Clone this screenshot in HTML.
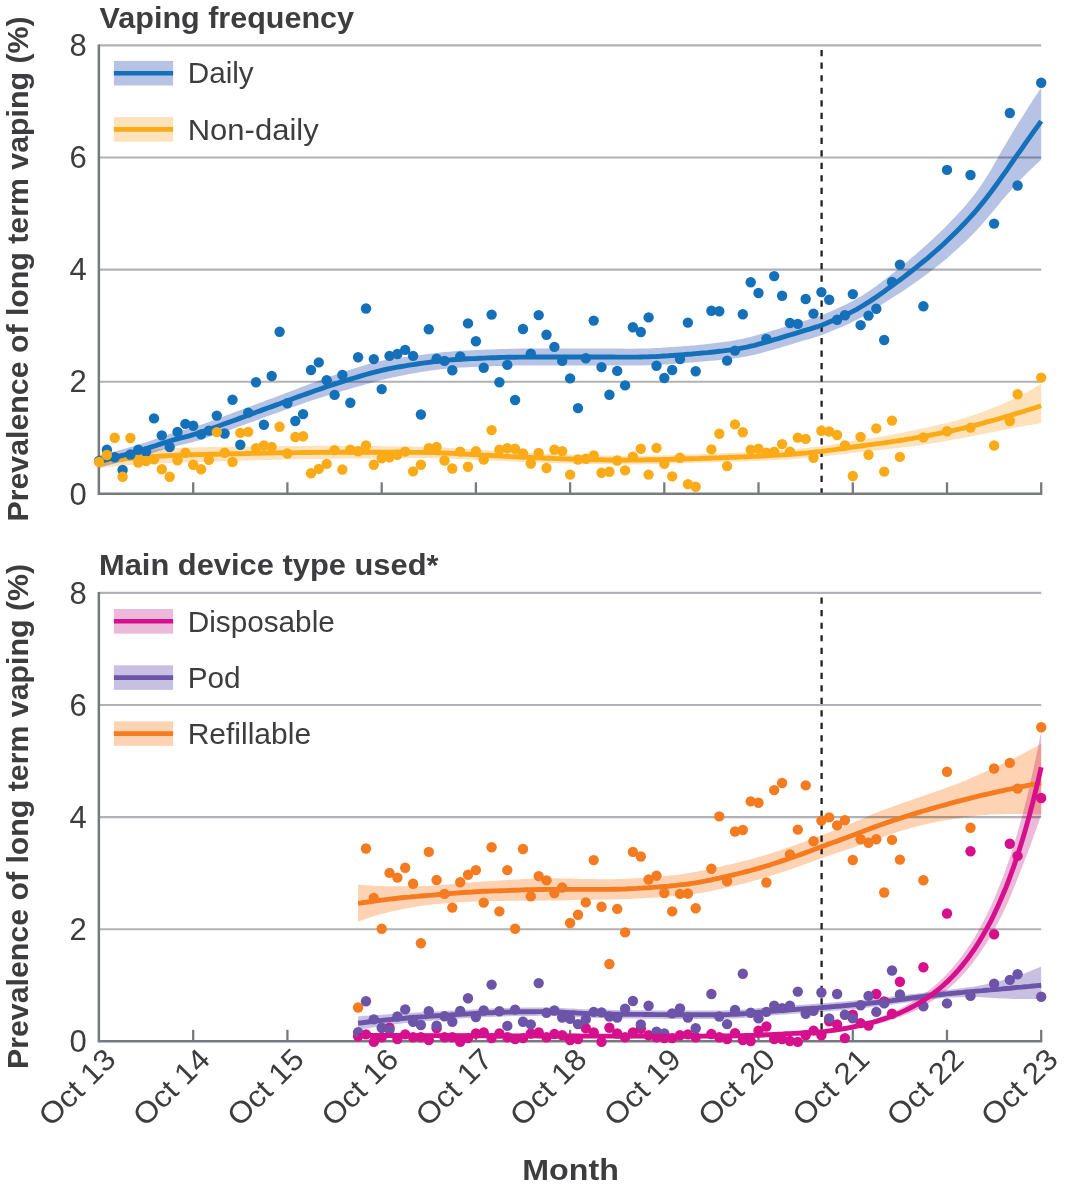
<!DOCTYPE html><html><head><meta charset="utf-8"><title>Vaping prevalence</title>
<style>html,body{margin:0;padding:0;background:#fff}svg{display:block;font-family:"Liberation Sans",sans-serif}</style></head><body>
<svg width="1065" height="1188" viewBox="0 0 1065 1188">
<rect width="1065" height="1188" fill="#fff"/>
<line x1="99.0" y1="381.7" x2="1041.2" y2="381.7" stroke="#b0b2b5" stroke-width="2.1"/>
<line x1="99.0" y1="269.6" x2="1041.2" y2="269.6" stroke="#b0b2b5" stroke-width="2.1"/>
<line x1="99.0" y1="157.5" x2="1041.2" y2="157.5" stroke="#b0b2b5" stroke-width="2.1"/>
<line x1="99.0" y1="45.4" x2="1041.2" y2="45.4" stroke="#b0b2b5" stroke-width="2.1"/>
<line x1="821.6" y1="50.1" x2="821.6" y2="493.8" stroke="#231f20" stroke-width="2.3" stroke-dasharray="6.2 6.32"/>
<path d="M98.85 44.5 V493.8 H1042.2" fill="none" stroke="#787b7e" stroke-width="2.5"/>
<line x1="193.2" y1="493.8" x2="193.2" y2="482.3" stroke="#787b7e" stroke-width="2.3"/>
<line x1="287.4" y1="493.8" x2="287.4" y2="482.3" stroke="#787b7e" stroke-width="2.3"/>
<line x1="381.7" y1="493.8" x2="381.7" y2="482.3" stroke="#787b7e" stroke-width="2.3"/>
<line x1="475.9" y1="493.8" x2="475.9" y2="482.3" stroke="#787b7e" stroke-width="2.3"/>
<line x1="570.1" y1="493.8" x2="570.1" y2="482.3" stroke="#787b7e" stroke-width="2.3"/>
<line x1="664.3" y1="493.8" x2="664.3" y2="482.3" stroke="#787b7e" stroke-width="2.3"/>
<line x1="758.5" y1="493.8" x2="758.5" y2="482.3" stroke="#787b7e" stroke-width="2.3"/>
<line x1="852.8" y1="493.8" x2="852.8" y2="482.3" stroke="#787b7e" stroke-width="2.3"/>
<line x1="947" y1="493.8" x2="947" y2="482.3" stroke="#787b7e" stroke-width="2.3"/>
<line x1="1041.2" y1="493.8" x2="1041.2" y2="482.3" stroke="#787b7e" stroke-width="2.3"/>
<text x="86.8" y="504.5" text-anchor="end" font-size="31" fill="#3d3d3f">0</text>
<text x="86.8" y="392.4" text-anchor="end" font-size="31" fill="#3d3d3f">2</text>
<text x="86.8" y="280.3" text-anchor="end" font-size="31" fill="#3d3d3f">4</text>
<text x="86.8" y="168.2" text-anchor="end" font-size="31" fill="#3d3d3f">6</text>
<text x="86.8" y="56.1" text-anchor="end" font-size="31" fill="#3d3d3f">8</text>
<g style="mix-blend-mode:multiply">
<path d="M99 456.2 L102.9 455.4 L106.9 454.6 L110.8 453.9 L114.7 453.3 L118.6 452.8 L122.6 452.4 L126.5 451.9 L130.4 451.5 L134.3 451.1 L138.3 450.8 L142.2 450.4 L146.1 450.1 L150 449.7 L154 449.4 L157.9 449.1 L161.8 448.8 L165.7 448.6 L169.7 448.3 L173.6 448.1 L177.5 448 L181.4 447.8 L185.4 447.7 L189.3 447.6 L193.2 447.4 L197.1 447.3 L201.1 447.3 L205 447.2 L208.9 447.1 L212.8 447 L216.8 446.9 L220.7 446.9 L224.6 446.8 L228.6 446.8 L232.5 446.7 L236.4 446.6 L240.3 446.6 L244.3 446.5 L248.2 446.5 L252.1 446.4 L256 446.3 L260 446.3 L263.9 446.2 L267.8 446.1 L271.7 446.1 L275.7 446 L279.6 446 L283.5 446 L287.4 445.9 L291.4 445.9 L295.3 445.9 L299.2 445.9 L303.1 445.9 L307.1 445.9 L311 445.9 L314.9 445.8 L318.8 445.8 L322.8 445.8 L326.7 445.8 L330.6 445.8 L334.6 445.8 L338.5 445.8 L342.4 445.9 L346.3 445.9 L350.3 445.9 L354.2 445.9 L358.1 445.9 L362 446 L366 446 L369.9 446 L373.8 446.1 L377.7 446.1 L381.7 446.2 L385.6 446.2 L389.5 446.3 L393.4 446.3 L397.4 446.4 L401.3 446.4 L405.2 446.5 L409.1 446.5 L413.1 446.6 L417 446.7 L420.9 446.7 L424.8 446.8 L428.8 446.9 L432.7 447 L436.6 447.2 L440.5 447.4 L444.5 447.6 L448.4 447.8 L452.3 448 L456.3 448.3 L460.2 448.5 L464.1 448.8 L468 449 L472 449.3 L475.9 449.5 L479.8 449.8 L483.7 450 L487.7 450.3 L491.6 450.5 L495.5 450.7 L499.4 451 L503.4 451.2 L507.3 451.4 L511.2 451.7 L515.1 451.9 L519.1 452.1 L523 452.4 L526.9 452.6 L530.8 452.8 L534.8 453 L538.7 453.2 L542.6 453.3 L546.5 453.5 L550.5 453.7 L554.4 453.8 L558.3 454 L562.2 454.2 L566.2 454.3 L570.1 454.5 L574 454.6 L578 454.8 L581.9 454.9 L585.8 455 L589.7 455.1 L593.7 455.2 L597.6 455.4 L601.5 455.5 L605.4 455.6 L609.4 455.6 L613.3 455.7 L617.2 455.8 L621.1 455.8 L625.1 455.9 L629 455.9 L632.9 455.8 L636.8 455.8 L640.8 455.8 L644.7 455.7 L648.6 455.6 L652.5 455.5 L656.5 455.5 L660.4 455.4 L664.3 455.3 L668.2 455.2 L672.2 455.1 L676.1 455 L680 454.9 L683.9 454.7 L687.9 454.6 L691.8 454.5 L695.7 454.3 L699.7 454.2 L703.6 454 L707.5 453.9 L711.4 453.7 L715.4 453.6 L719.3 453.4 L723.2 453.2 L727.1 453.1 L731.1 452.9 L735 452.7 L738.9 452.5 L742.8 452.4 L746.8 452.2 L750.7 452 L754.6 451.8 L758.5 451.6 L762.5 451.3 L766.4 451.1 L770.3 450.9 L774.2 450.6 L778.2 450.4 L782.1 450.1 L786 449.8 L789.9 449.4 L793.9 449.1 L797.8 448.7 L801.7 448.3 L805.7 447.9 L809.6 447.5 L813.5 447.1 L817.4 446.7 L821.4 446.2 L825.3 445.6 L829.2 445 L833.1 444.4 L837.1 443.8 L841 443.1 L844.9 442.4 L848.8 441.8 L852.8 441.1 L856.7 440.5 L860.6 439.9 L864.5 439.3 L868.5 438.6 L872.4 438 L876.3 437.4 L880.2 436.7 L884.2 436.1 L888.1 435.4 L892 434.7 L895.9 434 L899.9 433.2 L903.8 432.4 L907.7 431.6 L911.6 430.8 L915.6 429.9 L919.5 429.1 L923.4 428.2 L927.4 427.4 L931.3 426.5 L935.2 425.6 L939.1 424.7 L943.1 423.8 L947 422.9 L950.9 421.9 L954.8 420.9 L958.8 419.8 L962.7 418.6 L966.6 417.4 L970.5 416.1 L974.5 414.7 L978.4 413.4 L982.3 412 L986.2 410.5 L990.2 409 L994.1 407.5 L998 405.9 L1001.9 404.2 L1005.9 402.5 L1009.8 400.7 L1013.7 398.8 L1017.6 396.9 L1021.6 394.9 L1025.5 392.8 L1029.4 390.7 L1033.3 388.4 L1037.3 386.1 L1041.2 383.8 L1041.2 423.1 L1037.3 423.7 L1033.3 424.4 L1029.4 425.1 L1025.5 425.8 L1021.6 426.5 L1017.6 427.2 L1013.7 428 L1009.8 428.7 L1005.9 429.5 L1001.9 430.2 L998 431 L994.1 431.8 L990.2 432.6 L986.2 433.4 L982.3 434.2 L978.4 435 L974.5 435.7 L970.5 436.5 L966.6 437.2 L962.7 437.9 L958.8 438.6 L954.8 439.3 L950.9 440 L947 440.8 L943.1 441.5 L939.1 442.2 L935.2 442.9 L931.3 443.5 L927.4 444.1 L923.4 444.7 L919.5 445.3 L915.6 445.8 L911.6 446.4 L907.7 446.9 L903.8 447.3 L899.9 447.8 L895.9 448.2 L892 448.7 L888.1 449.1 L884.2 449.6 L880.2 450 L876.3 450.4 L872.4 450.8 L868.5 451.2 L864.5 451.6 L860.6 452.1 L856.7 452.5 L852.8 452.9 L848.8 453.4 L844.9 453.9 L841 454.3 L837.1 454.8 L833.1 455.3 L829.2 455.8 L825.3 456.3 L821.4 456.7 L817.4 457 L813.5 457.4 L809.6 457.7 L805.7 458 L801.7 458.3 L797.8 458.6 L793.9 458.9 L789.9 459.2 L786 459.5 L782.1 459.7 L778.2 459.9 L774.2 460.1 L770.3 460.3 L766.4 460.5 L762.5 460.6 L758.5 460.8 L754.6 461 L750.7 461.1 L746.8 461.2 L742.8 461.4 L738.9 461.5 L735 461.6 L731.1 461.7 L727.1 461.9 L723.2 462 L719.3 462.1 L715.4 462.2 L711.4 462.4 L707.5 462.5 L703.6 462.6 L699.7 462.7 L695.7 462.8 L691.8 463 L687.9 463.1 L683.9 463.2 L680 463.3 L676.1 463.4 L672.2 463.5 L668.2 463.6 L664.3 463.7 L660.4 463.8 L656.5 463.9 L652.5 464 L648.6 464.1 L644.7 464.1 L640.8 464.2 L636.8 464.3 L632.9 464.4 L629 464.4 L625.1 464.4 L621.1 464.4 L617.2 464.4 L613.3 464.4 L609.4 464.3 L605.4 464.3 L601.5 464.2 L597.6 464.1 L593.7 464.1 L589.7 464 L585.8 463.9 L581.9 463.8 L578 463.8 L574 463.7 L570.1 463.6 L566.2 463.5 L562.2 463.3 L558.3 463.2 L554.4 463.1 L550.5 463 L546.5 462.9 L542.6 462.7 L538.7 462.6 L534.8 462.4 L530.8 462.3 L526.9 462.1 L523 462 L519.1 461.8 L515.1 461.6 L511.2 461.5 L507.3 461.3 L503.4 461.1 L499.4 460.9 L495.5 460.7 L491.6 460.6 L487.7 460.4 L483.7 460.2 L479.8 460.1 L475.9 459.9 L472 459.7 L468 459.5 L464.1 459.3 L460.2 459.2 L456.3 459 L452.3 458.8 L448.4 458.6 L444.5 458.5 L440.5 458.4 L436.6 458.3 L432.7 458.2 L428.8 458.1 L424.8 458.1 L420.9 458.1 L417 458.1 L413.1 458.1 L409.1 458.2 L405.2 458.2 L401.3 458.2 L397.4 458.2 L393.4 458.2 L389.5 458.3 L385.6 458.3 L381.7 458.3 L377.7 458.3 L373.8 458.4 L369.9 458.4 L366 458.4 L362 458.5 L358.1 458.5 L354.2 458.5 L350.3 458.6 L346.3 458.6 L342.4 458.6 L338.5 458.7 L334.6 458.7 L330.6 458.8 L326.7 458.8 L322.8 458.9 L318.8 458.9 L314.9 459 L311 459.1 L307.1 459.1 L303.1 459.2 L299.2 459.3 L295.3 459.3 L291.4 459.4 L287.4 459.5 L283.5 459.6 L279.6 459.7 L275.7 459.8 L271.7 459.9 L267.8 460 L263.9 460.1 L260 460.2 L256 460.3 L252.1 460.4 L248.2 460.5 L244.3 460.6 L240.3 460.8 L236.4 460.9 L232.5 461 L228.6 461.1 L224.6 461.2 L220.7 461.3 L216.8 461.4 L212.8 461.5 L208.9 461.6 L205 461.7 L201.1 461.8 L197.1 461.9 L193.2 462 L189.3 462.1 L185.4 462.2 L181.4 462.4 L177.5 462.5 L173.6 462.7 L169.7 462.9 L165.7 463.1 L161.8 463.3 L157.9 463.5 L154 463.7 L150 463.9 L146.1 464.1 L142.2 464.4 L138.3 464.6 L134.3 464.9 L130.4 465.1 L126.5 465.4 L122.6 465.6 L118.6 466 L114.7 466.3 L110.8 466.7 L106.9 467.3 L102.9 467.9 L99 468.6 Z" fill="#fde2bb"/>
</g><g style="mix-blend-mode:multiply">
<path d="M99 455.7 L102.9 454.6 L106.9 453.5 L110.8 452.5 L114.7 451.4 L118.6 450.4 L122.6 449.3 L126.5 448.2 L130.4 447.1 L134.3 445.9 L138.3 444.7 L142.2 443.4 L146.1 442.2 L150 440.9 L154 439.5 L157.9 438.2 L161.8 436.8 L165.7 435.4 L169.7 434.1 L173.6 432.9 L177.5 431.8 L181.4 430.7 L185.4 429.6 L189.3 428.6 L193.2 427.4 L197.1 426.1 L201.1 424.8 L205 423.4 L208.9 421.9 L212.8 420.4 L216.8 419 L220.7 417.5 L224.6 416 L228.6 414.5 L232.5 413.1 L236.4 411.6 L240.3 410.2 L244.3 408.7 L248.2 407.2 L252.1 405.7 L256 404.2 L260 402.7 L263.9 401.3 L267.8 399.8 L271.7 398.4 L275.7 396.9 L279.6 395.4 L283.5 394 L287.4 392.4 L291.4 390.9 L295.3 389.4 L299.2 387.9 L303.1 386.5 L307.1 385.1 L311 383.6 L314.9 382.2 L318.8 380.7 L322.8 379.3 L326.7 377.8 L330.6 376.4 L334.6 375.1 L338.5 373.7 L342.4 372.4 L346.3 371 L350.3 369.7 L354.2 368.4 L358.1 367.2 L362 366 L366 364.8 L369.9 363.7 L373.8 362.6 L377.7 361.6 L381.7 360.7 L385.6 359.9 L389.5 359.1 L393.4 358.5 L397.4 357.9 L401.3 357.4 L405.2 356.9 L409.1 356.4 L413.1 355.9 L417 355.4 L420.9 354.9 L424.8 354.4 L428.8 353.9 L432.7 353.4 L436.6 352.9 L440.5 352.5 L444.5 352.1 L448.4 351.7 L452.3 351.4 L456.3 351.1 L460.2 350.8 L464.1 350.6 L468 350.4 L472 350.2 L475.9 350 L479.8 349.9 L483.7 349.7 L487.7 349.5 L491.6 349.4 L495.5 349.2 L499.4 349.1 L503.4 349 L507.3 348.9 L511.2 348.8 L515.1 348.7 L519.1 348.6 L523 348.6 L526.9 348.5 L530.8 348.5 L534.8 348.5 L538.7 348.5 L542.6 348.5 L546.5 348.5 L550.5 348.5 L554.4 348.5 L558.3 348.5 L562.2 348.5 L566.2 348.5 L570.1 348.5 L574 348.5 L578 348.5 L581.9 348.5 L585.8 348.5 L589.7 348.5 L593.7 348.5 L597.6 348.5 L601.5 348.5 L605.4 348.5 L609.4 348.5 L613.3 348.6 L617.2 348.6 L621.1 348.6 L625.1 348.7 L629 348.7 L632.9 348.7 L636.8 348.6 L640.8 348.6 L644.7 348.5 L648.6 348.4 L652.5 348.2 L656.5 348.1 L660.4 347.9 L664.3 347.6 L668.2 347.3 L672.2 347.1 L676.1 346.8 L680 346.5 L683.9 346.2 L687.9 345.9 L691.8 345.5 L695.7 345.2 L699.7 344.8 L703.6 344.5 L707.5 344 L711.4 343.6 L715.4 343.1 L719.3 342.6 L723.2 342.1 L727.1 341.5 L731.1 340.9 L735 340.2 L738.9 339.5 L742.8 338.7 L746.8 337.8 L750.7 336.9 L754.6 335.8 L758.5 334.8 L762.5 333.6 L766.4 332.5 L770.3 331.3 L774.2 330.1 L778.2 328.9 L782.1 327.7 L786 326.5 L789.9 325.3 L793.9 324 L797.8 322.8 L801.7 321.6 L805.7 320.4 L809.6 319.2 L813.5 318 L817.4 316.8 L821.4 315.4 L825.3 313.8 L829.2 312.1 L833.1 310.4 L837.1 308.6 L841 306.8 L844.9 305 L848.8 303.1 L852.8 301 L856.7 298.8 L860.6 296.5 L864.5 294 L868.5 291.4 L872.4 288.7 L876.3 285.9 L880.2 283 L884.2 280.1 L888.1 277.1 L892 274 L895.9 270.9 L899.9 267.7 L903.8 264.5 L907.7 261.2 L911.6 257.8 L915.6 254.4 L919.5 251 L923.4 247.5 L927.4 244 L931.3 240.4 L935.2 236.7 L939.1 233 L943.1 229.2 L947 225.3 L950.9 221.3 L954.8 217.2 L958.8 213 L962.7 208.7 L966.6 204.2 L970.5 199.5 L974.5 194.5 L978.4 189.2 L982.3 183.5 L986.2 177.4 L990.2 170.9 L994.1 164.2 L998 157.4 L1001.9 150.6 L1005.9 143.8 L1009.8 137.2 L1013.7 130.6 L1017.6 124.2 L1021.6 117.9 L1025.5 111.7 L1029.4 105.6 L1033.3 99.6 L1037.3 93.6 L1041.2 87.7 L1041.2 159.7 L1037.3 163.3 L1033.3 167 L1029.4 170.7 L1025.5 174.6 L1021.6 178.6 L1017.6 182.7 L1013.7 187 L1009.8 191.4 L1005.9 196 L1001.9 200.6 L998 205.4 L994.1 210.1 L990.2 214.8 L986.2 219.4 L982.3 223.9 L978.4 228.3 L974.5 232.5 L970.5 236.5 L966.6 240.4 L962.7 244.1 L958.8 247.8 L954.8 251.3 L950.9 254.8 L947 258.2 L943.1 261.5 L939.1 264.7 L935.2 267.8 L931.3 270.8 L927.4 273.8 L923.4 276.7 L919.5 279.5 L915.6 282.3 L911.6 285.1 L907.7 287.8 L903.8 290.4 L899.9 293 L895.9 295.5 L892 298 L888.1 300.6 L884.2 303.1 L880.2 305.6 L876.3 308.2 L872.4 310.7 L868.5 313.1 L864.5 315.4 L860.6 317.7 L856.7 319.8 L852.8 321.8 L848.8 323.7 L844.9 325.5 L841 327.2 L837.1 328.8 L833.1 330.5 L829.2 332.1 L825.3 333.7 L821.4 335.2 L817.4 336.5 L813.5 337.7 L809.6 338.9 L805.7 340 L801.7 341.1 L797.8 342.3 L793.9 343.5 L789.9 344.7 L786 345.9 L782.1 347 L778.2 348.2 L774.2 349.4 L770.3 350.5 L766.4 351.6 L762.5 352.7 L758.5 353.7 L754.6 354.7 L750.7 355.6 L746.8 356.4 L742.8 357.1 L738.9 357.7 L735 358.3 L731.1 358.8 L727.1 359.2 L723.2 359.6 L719.3 360 L715.4 360.4 L711.4 360.7 L707.5 361.1 L703.6 361.4 L699.7 361.7 L695.7 362.1 L691.8 362.4 L687.9 362.7 L683.9 363 L680 363.3 L676.1 363.6 L672.2 363.9 L668.2 364.2 L664.3 364.4 L660.4 364.7 L656.5 364.9 L652.5 365.1 L648.6 365.2 L644.7 365.3 L640.8 365.4 L636.8 365.5 L632.9 365.5 L629 365.5 L625.1 365.5 L621.1 365.5 L617.2 365.5 L613.3 365.5 L609.4 365.5 L605.4 365.5 L601.5 365.6 L597.6 365.6 L593.7 365.6 L589.7 365.6 L585.8 365.6 L581.9 365.6 L578 365.6 L574 365.6 L570.1 365.6 L566.2 365.6 L562.2 365.6 L558.3 365.6 L554.4 365.6 L550.5 365.6 L546.5 365.6 L542.6 365.6 L538.7 365.6 L534.8 365.6 L530.8 365.6 L526.9 365.5 L523 365.6 L519.1 365.6 L515.1 365.6 L511.2 365.7 L507.3 365.8 L503.4 365.9 L499.4 366 L495.5 366.1 L491.6 366.2 L487.7 366.4 L483.7 366.5 L479.8 366.7 L475.9 366.9 L472 367 L468 367.2 L464.1 367.4 L460.2 367.6 L456.3 367.9 L452.3 368.2 L448.4 368.5 L444.5 368.9 L440.5 369.3 L436.6 369.7 L432.7 370.2 L428.8 370.8 L424.8 371.4 L420.9 372 L417 372.7 L413.1 373.4 L409.1 374.1 L405.2 374.9 L401.3 375.7 L397.4 376.5 L393.4 377.3 L389.5 378.2 L385.6 379.1 L381.7 380.1 L377.7 381.1 L373.8 382.1 L369.9 383.2 L366 384.3 L362 385.4 L358.1 386.5 L354.2 387.6 L350.3 388.7 L346.3 389.9 L342.4 391 L338.5 392.2 L334.6 393.3 L330.6 394.5 L326.7 395.7 L322.8 397 L318.8 398.2 L314.9 399.5 L311 400.8 L307.1 402.1 L303.1 403.4 L299.2 404.8 L295.3 406.2 L291.4 407.6 L287.4 409 L283.5 410.5 L279.6 411.9 L275.7 413.3 L271.7 414.7 L267.8 416.1 L263.9 417.6 L260 419 L256 420.4 L252.1 421.9 L248.2 423.3 L244.3 424.7 L240.3 426.1 L236.4 427.5 L232.5 428.9 L228.6 430.3 L224.6 431.7 L220.7 433 L216.8 434.4 L212.8 435.8 L208.9 437.1 L205 438.4 L201.1 439.7 L197.1 440.9 L193.2 442 L189.3 443 L185.4 443.9 L181.4 444.9 L177.5 445.8 L173.6 446.8 L169.7 447.9 L165.7 449.1 L161.8 450.3 L157.9 451.6 L154 452.8 L150 454 L146.1 455.2 L142.2 456.4 L138.3 457.5 L134.3 458.6 L130.4 459.6 L126.5 460.7 L122.6 461.7 L118.6 462.6 L114.7 463.6 L110.8 464.5 L106.9 465.5 L102.9 466.5 L99 467.5 Z" fill="#b7c3e5"/>
</g>
<path d="M99 462.4 L102.9 461.6 L106.9 460.9 L110.8 460.3 L114.7 459.8 L118.6 459.4 L122.6 459 L126.5 458.6 L130.4 458.3 L134.3 458 L138.3 457.7 L142.2 457.4 L146.1 457.1 L150 456.8 L154 456.5 L157.9 456.3 L161.8 456 L165.7 455.8 L169.7 455.6 L173.6 455.4 L177.5 455.2 L181.4 455.1 L185.4 455 L189.3 454.8 L193.2 454.7 L197.1 454.6 L201.1 454.5 L205 454.4 L208.9 454.3 L212.8 454.2 L216.8 454.2 L220.7 454.1 L224.6 454 L228.6 453.9 L232.5 453.8 L236.4 453.7 L240.3 453.7 L244.3 453.6 L248.2 453.5 L252.1 453.4 L256 453.3 L260 453.2 L263.9 453.1 L267.8 453.1 L271.7 453 L275.7 452.9 L279.6 452.8 L283.5 452.8 L287.4 452.7 L291.4 452.7 L295.3 452.6 L299.2 452.6 L303.1 452.5 L307.1 452.5 L311 452.5 L314.9 452.4 L318.8 452.4 L322.8 452.4 L326.7 452.3 L330.6 452.3 L334.6 452.3 L338.5 452.3 L342.4 452.2 L346.3 452.2 L350.3 452.2 L354.2 452.2 L358.1 452.2 L362 452.2 L366 452.2 L369.9 452.2 L373.8 452.2 L377.7 452.2 L381.7 452.2 L385.6 452.3 L389.5 452.3 L393.4 452.3 L397.4 452.3 L401.3 452.3 L405.2 452.3 L409.1 452.3 L413.1 452.4 L417 452.4 L420.9 452.4 L424.8 452.5 L428.8 452.5 L432.7 452.6 L436.6 452.7 L440.5 452.9 L444.5 453 L448.4 453.2 L452.3 453.4 L456.3 453.6 L460.2 453.8 L464.1 454.1 L468 454.3 L472 454.5 L475.9 454.7 L479.8 454.9 L483.7 455.1 L487.7 455.3 L491.6 455.5 L495.5 455.7 L499.4 455.9 L503.4 456.2 L507.3 456.4 L511.2 456.6 L515.1 456.8 L519.1 457 L523 457.2 L526.9 457.4 L530.8 457.5 L534.8 457.7 L538.7 457.9 L542.6 458 L546.5 458.2 L550.5 458.3 L554.4 458.5 L558.3 458.6 L562.2 458.8 L566.2 458.9 L570.1 459 L574 459.1 L578 459.3 L581.9 459.4 L585.8 459.5 L589.7 459.6 L593.7 459.7 L597.6 459.7 L601.5 459.8 L605.4 459.9 L609.4 460 L613.3 460 L617.2 460.1 L621.1 460.1 L625.1 460.1 L629 460.1 L632.9 460.1 L636.8 460.1 L640.8 460 L644.7 459.9 L648.6 459.8 L652.5 459.8 L656.5 459.7 L660.4 459.6 L664.3 459.5 L668.2 459.4 L672.2 459.3 L676.1 459.2 L680 459.1 L683.9 459 L687.9 458.8 L691.8 458.7 L695.7 458.6 L699.7 458.5 L703.6 458.3 L707.5 458.2 L711.4 458 L715.4 457.9 L719.3 457.8 L723.2 457.6 L727.1 457.5 L731.1 457.3 L735 457.2 L738.9 457 L742.8 456.9 L746.8 456.7 L750.7 456.5 L754.6 456.4 L758.5 456.2 L762.5 456 L766.4 455.8 L770.3 455.6 L774.2 455.4 L778.2 455.1 L782.1 454.9 L786 454.6 L789.9 454.3 L793.9 454 L797.8 453.7 L801.7 453.3 L805.7 453 L809.6 452.6 L813.5 452.3 L817.4 451.8 L821.4 451.4 L825.3 450.9 L829.2 450.4 L833.1 449.9 L837.1 449.3 L841 448.7 L844.9 448.2 L848.8 447.6 L852.8 447 L856.7 446.5 L860.6 446 L864.5 445.5 L868.5 444.9 L872.4 444.4 L876.3 443.9 L880.2 443.4 L884.2 442.8 L888.1 442.3 L892 441.7 L895.9 441.1 L899.9 440.5 L903.8 439.9 L907.7 439.2 L911.6 438.6 L915.6 437.9 L919.5 437.2 L923.4 436.5 L927.4 435.8 L931.3 435 L935.2 434.2 L939.1 433.5 L943.1 432.7 L947 431.8 L950.9 431 L954.8 430.1 L958.8 429.2 L962.7 428.3 L966.6 427.3 L970.5 426.3 L974.5 425.3 L978.4 424.3 L982.3 423.3 L986.2 422.2 L990.2 421.1 L994.1 420.1 L998 419 L1001.9 417.9 L1005.9 416.7 L1009.8 415.6 L1013.7 414.4 L1017.6 413.2 L1021.6 412 L1025.5 410.8 L1029.4 409.5 L1033.3 408.3 L1037.3 407 L1041.2 405.7" fill="none" stroke="#fbab18" stroke-width="4.9" stroke-linejoin="round"/>
<path d="M99 461.6 L102.9 460.5 L106.9 459.5 L110.8 458.5 L114.7 457.5 L118.6 456.5 L122.6 455.5 L126.5 454.4 L130.4 453.4 L134.3 452.2 L138.3 451.1 L142.2 449.9 L146.1 448.7 L150 447.4 L154 446.2 L157.9 444.9 L161.8 443.6 L165.7 442.3 L169.7 441 L173.6 439.9 L177.5 438.8 L181.4 437.8 L185.4 436.8 L189.3 435.8 L193.2 434.7 L197.1 433.5 L201.1 432.2 L205 430.9 L208.9 429.5 L212.8 428.1 L216.8 426.7 L220.7 425.3 L224.6 423.8 L228.6 422.4 L232.5 421 L236.4 419.6 L240.3 418.1 L244.3 416.7 L248.2 415.3 L252.1 413.8 L256 412.3 L260 410.9 L263.9 409.4 L267.8 408 L271.7 406.6 L275.7 405.1 L279.6 403.7 L283.5 402.2 L287.4 400.7 L291.4 399.3 L295.3 397.8 L299.2 396.4 L303.1 395 L307.1 393.6 L311 392.2 L314.9 390.8 L318.8 389.5 L322.8 388.1 L326.7 386.8 L330.6 385.5 L334.6 384.2 L338.5 382.9 L342.4 381.7 L346.3 380.5 L350.3 379.2 L354.2 378 L358.1 376.8 L362 375.7 L366 374.5 L369.9 373.4 L373.8 372.4 L377.7 371.4 L381.7 370.4 L385.6 369.5 L389.5 368.7 L393.4 367.9 L397.4 367.2 L401.3 366.5 L405.2 365.9 L409.1 365.2 L413.1 364.6 L417 364 L420.9 363.4 L424.8 362.9 L428.8 362.3 L432.7 361.8 L436.6 361.3 L440.5 360.9 L444.5 360.5 L448.4 360.1 L452.3 359.8 L456.3 359.5 L460.2 359.2 L464.1 359 L468 358.8 L472 358.6 L475.9 358.5 L479.8 358.3 L483.7 358.1 L487.7 357.9 L491.6 357.8 L495.5 357.7 L499.4 357.5 L503.4 357.4 L507.3 357.3 L511.2 357.2 L515.1 357.2 L519.1 357.1 L523 357.1 L526.9 357 L530.8 357 L534.8 357 L538.7 357 L542.6 357 L546.5 357 L550.5 357 L554.4 357 L558.3 357 L562.2 357 L566.2 357 L570.1 357 L574 357 L578 357 L581.9 357 L585.8 357 L589.7 357 L593.7 357 L597.6 357 L601.5 357 L605.4 357 L609.4 357 L613.3 357 L617.2 357.1 L621.1 357.1 L625.1 357.1 L629 357.1 L632.9 357.1 L636.8 357.1 L640.8 357 L644.7 356.9 L648.6 356.8 L652.5 356.6 L656.5 356.5 L660.4 356.3 L664.3 356 L668.2 355.8 L672.2 355.5 L676.1 355.2 L680 354.9 L683.9 354.6 L687.9 354.3 L691.8 354 L695.7 353.6 L699.7 353.3 L703.6 352.9 L707.5 352.6 L711.4 352.2 L715.4 351.8 L719.3 351.3 L723.2 350.9 L727.1 350.4 L731.1 349.8 L735 349.3 L738.9 348.6 L742.8 347.9 L746.8 347.1 L750.7 346.2 L754.6 345.3 L758.5 344.2 L762.5 343.2 L766.4 342 L770.3 340.9 L774.2 339.7 L778.2 338.6 L782.1 337.4 L786 336.2 L789.9 335 L793.9 333.8 L797.8 332.6 L801.7 331.4 L805.7 330.2 L809.6 329.1 L813.5 327.9 L817.4 326.7 L821.4 325.3 L825.3 323.8 L829.2 322.1 L833.1 320.4 L837.1 318.7 L841 317 L844.9 315.2 L848.8 313.4 L852.8 311.4 L856.7 309.3 L860.6 307 L864.5 304.7 L868.5 302.2 L872.4 299.6 L876.3 296.9 L880.2 294.2 L884.2 291.4 L888.1 288.6 L892 285.8 L895.9 282.9 L899.9 280 L903.8 277.1 L907.7 274 L911.6 271 L915.6 267.9 L919.5 264.7 L923.4 261.5 L927.4 258.3 L931.3 254.9 L935.2 251.5 L939.1 248.1 L943.1 244.5 L947 240.8 L950.9 237 L954.8 233.2 L958.8 229.3 L962.7 225.2 L966.6 221.1 L970.5 216.9 L974.5 212.5 L978.4 207.9 L982.3 203.1 L986.2 198.2 L990.2 193.1 L994.1 187.8 L998 182.4 L1001.9 176.9 L1005.9 171.3 L1009.8 165.6 L1013.7 160 L1017.6 154.4 L1021.6 148.8 L1025.5 143.2 L1029.4 137.7 L1033.3 132.1 L1037.3 126.6 L1041.2 121.1" fill="none" stroke="#1470b8" stroke-width="4.9" stroke-linejoin="round"/>
<g fill="#1470b8"><circle cx="99" cy="461" r="5.2"/><circle cx="106.9" cy="449.7" r="5.2"/><circle cx="114.7" cy="457.2" r="5.2"/><circle cx="122.6" cy="470" r="5.2"/><circle cx="130.4" cy="454.5" r="5.2"/><circle cx="138.3" cy="449.7" r="5.2"/><circle cx="146.1" cy="451.5" r="5.2"/><circle cx="154" cy="418.4" r="5.2"/><circle cx="161.8" cy="435.4" r="5.2"/><circle cx="169.7" cy="447" r="5.2"/><circle cx="177.5" cy="432" r="5.2"/><circle cx="185.4" cy="423.9" r="5.2"/><circle cx="193.2" cy="425.7" r="5.2"/><circle cx="201.1" cy="434.4" r="5.2"/><circle cx="208.9" cy="430.6" r="5.2"/><circle cx="216.8" cy="415.6" r="5.2"/><circle cx="224.6" cy="433.5" r="5.2"/><circle cx="232.5" cy="399.7" r="5.2"/><circle cx="240.3" cy="444.7" r="5.2"/><circle cx="248.2" cy="412.6" r="5.2"/><circle cx="256" cy="382.2" r="5.2"/><circle cx="263.9" cy="424.8" r="5.2"/><circle cx="271.7" cy="376" r="5.2"/><circle cx="279.6" cy="331.8" r="5.2"/><circle cx="287.4" cy="403.2" r="5.2"/><circle cx="295.3" cy="421" r="5.2"/><circle cx="303.1" cy="414.1" r="5.2"/><circle cx="311" cy="370" r="5.2"/><circle cx="318.8" cy="362.4" r="5.2"/><circle cx="326.7" cy="380.3" r="5.2"/><circle cx="334.6" cy="394.9" r="5.2"/><circle cx="342.4" cy="375" r="5.2"/><circle cx="350.3" cy="402.8" r="5.2"/><circle cx="358.1" cy="357.2" r="5.2"/><circle cx="366" cy="308.5" r="5.2"/><circle cx="373.8" cy="359.1" r="5.2"/><circle cx="381.7" cy="389.1" r="5.2"/><circle cx="389.5" cy="355.9" r="5.2"/><circle cx="397.4" cy="354" r="5.2"/><circle cx="405.2" cy="349.9" r="5.2"/><circle cx="413.1" cy="355.9" r="5.2"/><circle cx="420.9" cy="414.5" r="5.2"/><circle cx="428.8" cy="329.2" r="5.2"/><circle cx="436.6" cy="358.7" r="5.2"/><circle cx="444.5" cy="360.9" r="5.2"/><circle cx="452.3" cy="370.3" r="5.2"/><circle cx="460.2" cy="356.4" r="5.2"/><circle cx="468" cy="323.4" r="5.2"/><circle cx="475.9" cy="341.2" r="5.2"/><circle cx="483.7" cy="367.7" r="5.2"/><circle cx="491.6" cy="314.6" r="5.2"/><circle cx="499.4" cy="382.2" r="5.2"/><circle cx="507.3" cy="364.9" r="5.2"/><circle cx="515.1" cy="400" r="5.2"/><circle cx="523" cy="329" r="5.2"/><circle cx="530.8" cy="353.6" r="5.2"/><circle cx="538.7" cy="315.1" r="5.2"/><circle cx="546.5" cy="334.7" r="5.2"/><circle cx="554.4" cy="346.9" r="5.2"/><circle cx="562.2" cy="360.9" r="5.2"/><circle cx="570.1" cy="378.4" r="5.2"/><circle cx="578" cy="408.1" r="5.2"/><circle cx="585.8" cy="358.3" r="5.2"/><circle cx="593.7" cy="320.6" r="5.2"/><circle cx="601.5" cy="367.1" r="5.2"/><circle cx="609.4" cy="394.7" r="5.2"/><circle cx="617.2" cy="370.9" r="5.2"/><circle cx="625.1" cy="385.4" r="5.2"/><circle cx="632.9" cy="327.3" r="5.2"/><circle cx="640.8" cy="332" r="5.2"/><circle cx="648.6" cy="317.4" r="5.2"/><circle cx="656.5" cy="365.8" r="5.2"/><circle cx="664.3" cy="378" r="5.2"/><circle cx="672.2" cy="370" r="5.2"/><circle cx="680" cy="359.1" r="5.2"/><circle cx="687.9" cy="322.6" r="5.2"/><circle cx="695.7" cy="371.3" r="5.2"/><circle cx="711.4" cy="310.8" r="5.2"/><circle cx="719.3" cy="311.2" r="5.2"/><circle cx="727.1" cy="360.6" r="5.2"/><circle cx="735" cy="350.6" r="5.2"/><circle cx="742.8" cy="314.2" r="5.2"/><circle cx="750.7" cy="282.3" r="5.2"/><circle cx="758.5" cy="293" r="5.2"/><circle cx="766.4" cy="339" r="5.2"/><circle cx="774.2" cy="276.1" r="5.2"/><circle cx="782.1" cy="295.8" r="5.2"/><circle cx="789.9" cy="323" r="5.2"/><circle cx="797.8" cy="323.9" r="5.2"/><circle cx="805.7" cy="299" r="5.2"/><circle cx="813.5" cy="313.6" r="5.2"/><circle cx="821.4" cy="292.1" r="5.2"/><circle cx="829.2" cy="299.7" r="5.2"/><circle cx="837.1" cy="319.7" r="5.2"/><circle cx="844.9" cy="315.3" r="5.2"/><circle cx="852.8" cy="294.1" r="5.2"/><circle cx="860.6" cy="325.1" r="5.2"/><circle cx="868.5" cy="315.6" r="5.2"/><circle cx="876.3" cy="308.7" r="5.2"/><circle cx="884.2" cy="340" r="5.2"/><circle cx="892" cy="281.9" r="5.2"/><circle cx="899.9" cy="264.6" r="5.2"/><circle cx="923.4" cy="306.3" r="5.2"/><circle cx="947" cy="169.9" r="5.2"/><circle cx="970.5" cy="175" r="5.2"/><circle cx="994.1" cy="223.6" r="5.2"/><circle cx="1009.8" cy="113" r="5.2"/><circle cx="1017.6" cy="185.5" r="5.2"/><circle cx="1041.2" cy="82.7" r="5.2"/></g>
<g fill="#fbab18"><circle cx="99" cy="462" r="5.2"/><circle cx="106.9" cy="455" r="5.2"/><circle cx="114.7" cy="437.7" r="5.2"/><circle cx="122.6" cy="476.7" r="5.2"/><circle cx="130.4" cy="438" r="5.2"/><circle cx="138.3" cy="462.5" r="5.2"/><circle cx="146.1" cy="461" r="5.2"/><circle cx="154" cy="459.2" r="5.2"/><circle cx="161.8" cy="469.2" r="5.2"/><circle cx="169.7" cy="476.7" r="5.2"/><circle cx="177.5" cy="460.2" r="5.2"/><circle cx="185.4" cy="452.7" r="5.2"/><circle cx="193.2" cy="464.7" r="5.2"/><circle cx="201.1" cy="469.2" r="5.2"/><circle cx="208.9" cy="459.8" r="5.2"/><circle cx="216.8" cy="432.1" r="5.2"/><circle cx="224.6" cy="452.7" r="5.2"/><circle cx="232.5" cy="462" r="5.2"/><circle cx="240.3" cy="432.9" r="5.2"/><circle cx="248.2" cy="431.9" r="5.2"/><circle cx="256" cy="448.3" r="5.2"/><circle cx="263.9" cy="445.5" r="5.2"/><circle cx="271.7" cy="447" r="5.2"/><circle cx="279.6" cy="426.7" r="5.2"/><circle cx="287.4" cy="453.5" r="5.2"/><circle cx="295.3" cy="437" r="5.2"/><circle cx="303.1" cy="436.2" r="5.2"/><circle cx="311" cy="473.2" r="5.2"/><circle cx="318.8" cy="468.9" r="5.2"/><circle cx="326.7" cy="463.9" r="5.2"/><circle cx="334.6" cy="450.1" r="5.2"/><circle cx="342.4" cy="469.5" r="5.2"/><circle cx="350.3" cy="449.8" r="5.2"/><circle cx="358.1" cy="451.3" r="5.2"/><circle cx="366" cy="445.5" r="5.2"/><circle cx="373.8" cy="464.8" r="5.2"/><circle cx="381.7" cy="458.2" r="5.2"/><circle cx="389.5" cy="457.3" r="5.2"/><circle cx="397.4" cy="454.8" r="5.2"/><circle cx="405.2" cy="451.6" r="5.2"/><circle cx="413.1" cy="471.4" r="5.2"/><circle cx="420.9" cy="464.8" r="5.2"/><circle cx="428.8" cy="448.3" r="5.2"/><circle cx="436.6" cy="447" r="5.2"/><circle cx="444.5" cy="460.5" r="5.2"/><circle cx="452.3" cy="468.5" r="5.2"/><circle cx="460.2" cy="451.6" r="5.2"/><circle cx="468" cy="466.7" r="5.2"/><circle cx="475.9" cy="451.1" r="5.2"/><circle cx="483.7" cy="459.5" r="5.2"/><circle cx="491.6" cy="430.1" r="5.2"/><circle cx="499.4" cy="449.8" r="5.2"/><circle cx="507.3" cy="448.3" r="5.2"/><circle cx="515.1" cy="448.8" r="5.2"/><circle cx="523" cy="453.5" r="5.2"/><circle cx="530.8" cy="463.5" r="5.2"/><circle cx="538.7" cy="453" r="5.2"/><circle cx="546.5" cy="468" r="5.2"/><circle cx="554.4" cy="449.8" r="5.2"/><circle cx="562.2" cy="451.1" r="5.2"/><circle cx="570.1" cy="474.6" r="5.2"/><circle cx="578" cy="459.5" r="5.2"/><circle cx="585.8" cy="458.8" r="5.2"/><circle cx="593.7" cy="455.4" r="5.2"/><circle cx="601.5" cy="472.7" r="5.2"/><circle cx="609.4" cy="471.7" r="5.2"/><circle cx="617.2" cy="460.5" r="5.2"/><circle cx="625.1" cy="470.4" r="5.2"/><circle cx="632.9" cy="456.7" r="5.2"/><circle cx="640.8" cy="448.8" r="5.2"/><circle cx="648.6" cy="474.6" r="5.2"/><circle cx="656.5" cy="447.9" r="5.2"/><circle cx="664.3" cy="463.9" r="5.2"/><circle cx="672.2" cy="476.4" r="5.2"/><circle cx="680" cy="457.7" r="5.2"/><circle cx="687.9" cy="484.1" r="5.2"/><circle cx="695.7" cy="486.8" r="5.2"/><circle cx="711.4" cy="449.4" r="5.2"/><circle cx="719.3" cy="433.8" r="5.2"/><circle cx="727.1" cy="466.1" r="5.2"/><circle cx="735" cy="424.4" r="5.2"/><circle cx="742.8" cy="432.3" r="5.2"/><circle cx="750.7" cy="449.8" r="5.2"/><circle cx="758.5" cy="448.8" r="5.2"/><circle cx="766.4" cy="452.6" r="5.2"/><circle cx="774.2" cy="451.6" r="5.2"/><circle cx="782.1" cy="444.1" r="5.2"/><circle cx="789.9" cy="451.6" r="5.2"/><circle cx="797.8" cy="437.6" r="5.2"/><circle cx="805.7" cy="438.9" r="5.2"/><circle cx="813.5" cy="457.7" r="5.2"/><circle cx="821.4" cy="430.8" r="5.2"/><circle cx="829.2" cy="431.5" r="5.2"/><circle cx="837.1" cy="435" r="5.2"/><circle cx="844.9" cy="445.5" r="5.2"/><circle cx="852.8" cy="476" r="5.2"/><circle cx="860.6" cy="436.9" r="5.2"/><circle cx="868.5" cy="454.7" r="5.2"/><circle cx="876.3" cy="428.4" r="5.2"/><circle cx="884.2" cy="471.6" r="5.2"/><circle cx="892" cy="420.6" r="5.2"/><circle cx="899.9" cy="456.9" r="5.2"/><circle cx="923.4" cy="437.4" r="5.2"/><circle cx="947" cy="431.3" r="5.2"/><circle cx="970.5" cy="427.6" r="5.2"/><circle cx="994.1" cy="445.5" r="5.2"/><circle cx="1009.8" cy="421" r="5.2"/><circle cx="1017.6" cy="394.2" r="5.2"/><circle cx="1041.2" cy="377.6" r="5.2"/></g>
<text x="99.6" y="28.2" font-size="29.5" font-weight="bold" textLength="254.5" lengthAdjust="spacingAndGlyphs" fill="#3d3d3f">Vaping frequency</text>
<rect x="113.9" y="60.9" width="59.2" height="24.6" fill="#b7c3e5"/>
<line x1="113.9" y1="73.2" x2="173.1" y2="73.2" stroke="#1470b8" stroke-width="4.6"/>
<text x="187.7" y="83.4" font-size="30" textLength="66.0" lengthAdjust="spacingAndGlyphs" fill="#3d3d3f">Daily</text>
<rect x="113.9" y="117.1" width="59.2" height="24.6" fill="#fde2bb"/>
<line x1="113.9" y1="129.4" x2="173.1" y2="129.4" stroke="#fbab18" stroke-width="4.6"/>
<text x="187.7" y="139.6" font-size="30" textLength="131.0" lengthAdjust="spacingAndGlyphs" fill="#3d3d3f">Non-daily</text>
<text transform="translate(28.2,521.5) rotate(-90)" font-size="29.8" font-weight="bold" textLength="505" lengthAdjust="spacingAndGlyphs" fill="#3d3d3f">Prevalence of long term vaping (%)</text>
<line x1="99.0" y1="929.2" x2="1041.2" y2="929.2" stroke="#b0b2b5" stroke-width="2.1"/>
<line x1="99.0" y1="817.1" x2="1041.2" y2="817.1" stroke="#b0b2b5" stroke-width="2.1"/>
<line x1="99.0" y1="705" x2="1041.2" y2="705" stroke="#b0b2b5" stroke-width="2.1"/>
<line x1="99.0" y1="592.9" x2="1041.2" y2="592.9" stroke="#b0b2b5" stroke-width="2.1"/>
<line x1="821.6" y1="597.6" x2="821.6" y2="1041.3" stroke="#231f20" stroke-width="2.3" stroke-dasharray="6.2 6.32"/>
<path d="M98.85 592 V1041.3 H1042.2" fill="none" stroke="#787b7e" stroke-width="2.5"/>
<line x1="193.2" y1="1041.3" x2="193.2" y2="1029.8" stroke="#787b7e" stroke-width="2.3"/>
<line x1="287.4" y1="1041.3" x2="287.4" y2="1029.8" stroke="#787b7e" stroke-width="2.3"/>
<line x1="381.7" y1="1041.3" x2="381.7" y2="1029.8" stroke="#787b7e" stroke-width="2.3"/>
<line x1="475.9" y1="1041.3" x2="475.9" y2="1029.8" stroke="#787b7e" stroke-width="2.3"/>
<line x1="570.1" y1="1041.3" x2="570.1" y2="1029.8" stroke="#787b7e" stroke-width="2.3"/>
<line x1="664.3" y1="1041.3" x2="664.3" y2="1029.8" stroke="#787b7e" stroke-width="2.3"/>
<line x1="758.5" y1="1041.3" x2="758.5" y2="1029.8" stroke="#787b7e" stroke-width="2.3"/>
<line x1="852.8" y1="1041.3" x2="852.8" y2="1029.8" stroke="#787b7e" stroke-width="2.3"/>
<line x1="947" y1="1041.3" x2="947" y2="1029.8" stroke="#787b7e" stroke-width="2.3"/>
<line x1="1041.2" y1="1041.3" x2="1041.2" y2="1029.8" stroke="#787b7e" stroke-width="2.3"/>
<text x="86.8" y="1052" text-anchor="end" font-size="31" fill="#3d3d3f">0</text>
<text x="86.8" y="939.9" text-anchor="end" font-size="31" fill="#3d3d3f">2</text>
<text x="86.8" y="827.8" text-anchor="end" font-size="31" fill="#3d3d3f">4</text>
<text x="86.8" y="715.7" text-anchor="end" font-size="31" fill="#3d3d3f">6</text>
<text x="86.8" y="603.6" text-anchor="end" font-size="31" fill="#3d3d3f">8</text>
<g style="mix-blend-mode:multiply">
<path d="M358.1 884.6 L362 884.9 L366 885.2 L369.9 885.4 L373.8 885.7 L377.7 885.9 L381.7 886 L385.6 886.2 L389.5 886.3 L393.4 886.3 L397.4 886.3 L401.3 886.3 L405.2 886.3 L409.1 886.3 L413.1 886.2 L417 886.2 L420.9 886.1 L424.8 886 L428.8 885.9 L432.7 885.7 L436.6 885.4 L440.5 885.1 L444.5 884.8 L448.4 884.5 L452.3 884.1 L456.3 883.7 L460.2 883.4 L464.1 883 L468 882.7 L472 882.3 L475.9 882 L479.8 881.7 L483.7 881.5 L487.7 881.2 L491.6 881 L495.5 880.8 L499.4 880.6 L503.4 880.3 L507.3 880.1 L511.2 879.8 L515.1 879.6 L519.1 879.4 L523 879.1 L526.9 878.9 L530.8 878.7 L534.8 878.5 L538.7 878.4 L542.6 878.3 L546.5 878.2 L550.5 878.2 L554.4 878.3 L558.3 878.3 L562.2 878.4 L566.2 878.5 L570.1 878.6 L574 878.7 L578 878.8 L581.9 878.9 L585.8 879 L589.7 879 L593.7 879.1 L597.6 879.2 L601.5 879.2 L605.4 879.3 L609.4 879.3 L613.3 879.2 L617.2 879.1 L621.1 879 L625.1 878.9 L629 878.7 L632.9 878.4 L636.8 878.2 L640.8 877.9 L644.7 877.7 L648.6 877.4 L652.5 877.1 L656.5 876.8 L660.4 876.5 L664.3 876.1 L668.2 875.7 L672.2 875.3 L676.1 874.9 L680 874.4 L683.9 873.8 L687.9 873.2 L691.8 872.6 L695.7 871.9 L699.7 871.1 L703.6 870.3 L707.5 869.5 L711.4 868.6 L715.4 867.8 L719.3 866.9 L723.2 866 L727.1 865.1 L731.1 864.2 L735 863.3 L738.9 862.3 L742.8 861.3 L746.8 860.3 L750.7 859.3 L754.6 858.2 L758.5 857.1 L762.5 855.9 L766.4 854.8 L770.3 853.6 L774.2 852.3 L778.2 851 L782.1 849.7 L786 848.3 L789.9 847 L793.9 845.6 L797.8 844.1 L801.7 842.7 L805.7 841.3 L809.6 839.8 L813.5 838.3 L817.4 836.8 L821.4 835.3 L825.3 833.8 L829.2 832.3 L833.1 830.7 L837.1 829.2 L841 827.6 L844.9 826 L848.8 824.4 L852.8 822.7 L856.7 821.1 L860.6 819.4 L864.5 817.7 L868.5 816 L872.4 814.3 L876.3 812.7 L880.2 811.2 L884.2 809.7 L888.1 808.2 L892 806.8 L895.9 805.4 L899.9 804 L903.8 802.6 L907.7 801.3 L911.6 799.9 L915.6 798.5 L919.5 797.2 L923.4 795.8 L927.4 794.5 L931.3 793.1 L935.2 791.8 L939.1 790.4 L943.1 789 L947 787.6 L950.9 786.1 L954.8 784.7 L958.8 783.2 L962.7 781.6 L966.6 780 L970.5 778.3 L974.5 776.6 L978.4 774.8 L982.3 773.1 L986.2 771.3 L990.2 769.6 L994.1 767.8 L998 766 L1001.9 764.1 L1005.9 762.2 L1009.8 760.3 L1013.7 758.4 L1017.6 756.4 L1021.6 754.4 L1025.5 752.3 L1029.4 750.2 L1033.3 748.1 L1037.3 745.9 L1041.2 743.7 L1041.2 814.5 L1037.3 814.3 L1033.3 814.2 L1029.4 814.1 L1025.5 814.1 L1021.6 814.1 L1017.6 814 L1013.7 814 L1009.8 814.1 L1005.9 814.1 L1001.9 814.2 L998 814.3 L994.1 814.4 L990.2 814.6 L986.2 814.9 L982.3 815.2 L978.4 815.6 L974.5 816 L970.5 816.5 L966.6 817 L962.7 817.6 L958.8 818.2 L954.8 818.8 L950.9 819.4 L947 820 L943.1 820.7 L939.1 821.4 L935.2 822.2 L931.3 823 L927.4 823.9 L923.4 824.8 L919.5 825.7 L915.6 826.7 L911.6 827.8 L907.7 828.9 L903.8 830 L899.9 831.3 L895.9 832.5 L892 833.9 L888.1 835.3 L884.2 836.7 L880.2 838.1 L876.3 839.5 L872.4 840.9 L868.5 842.3 L864.5 843.6 L860.6 845 L856.7 846.3 L852.8 847.7 L848.8 849 L844.9 850.3 L841 851.6 L837.1 852.9 L833.1 854.2 L829.2 855.6 L825.3 856.9 L821.4 858.3 L817.4 859.7 L813.5 861.2 L809.6 862.6 L805.7 864 L801.7 865.4 L797.8 866.8 L793.9 868.2 L789.9 869.5 L786 870.9 L782.1 872.2 L778.2 873.5 L774.2 874.8 L770.3 876 L766.4 877.2 L762.5 878.4 L758.5 879.5 L754.6 880.6 L750.7 881.7 L746.8 882.7 L742.8 883.8 L738.9 884.7 L735 885.7 L731.1 886.6 L727.1 887.5 L723.2 888.4 L719.3 889.3 L715.4 890.1 L711.4 890.9 L707.5 891.7 L703.6 892.4 L699.7 893 L695.7 893.7 L691.8 894.2 L687.9 894.7 L683.9 895.1 L680 895.5 L676.1 895.9 L672.2 896.2 L668.2 896.6 L664.3 896.9 L660.4 897.2 L656.5 897.4 L652.5 897.7 L648.6 897.9 L644.7 898.1 L640.8 898.4 L636.8 898.6 L632.9 898.8 L629 898.9 L625.1 899.1 L621.1 899.2 L617.2 899.3 L613.3 899.4 L609.4 899.5 L605.4 899.5 L601.5 899.6 L597.6 899.6 L593.7 899.7 L589.7 899.8 L585.8 899.9 L581.9 899.9 L578 900 L574 900.1 L570.1 900.2 L566.2 900.3 L562.2 900.4 L558.3 900.5 L554.4 900.5 L550.5 900.6 L546.5 900.6 L542.6 900.6 L538.7 900.7 L534.8 900.7 L530.8 900.7 L526.9 900.8 L523 900.8 L519.1 900.8 L515.1 900.8 L511.2 900.8 L507.3 900.8 L503.4 900.9 L499.4 900.9 L495.5 901 L491.6 901 L487.7 901.1 L483.7 901.2 L479.8 901.3 L475.9 901.4 L472 901.6 L468 901.8 L464.1 902 L460.2 902.2 L456.3 902.5 L452.3 902.8 L448.4 903.1 L444.5 903.4 L440.5 903.7 L436.6 904 L432.7 904.5 L428.8 904.9 L424.8 905.4 L420.9 906 L417 906.6 L413.1 907.2 L409.1 907.9 L405.2 908.6 L401.3 909.4 L397.4 910.2 L393.4 911 L389.5 911.9 L385.6 912.9 L381.7 914 L377.7 915.1 L373.8 916.3 L369.9 917.6 L366 918.8 L362 920.2 L358.1 921.5 Z" fill="#fdd3b3"/>
</g><g style="mix-blend-mode:multiply">
<path d="M358.1 1016.4 L362 1016.1 L366 1015.8 L369.9 1015.6 L373.8 1015.3 L377.7 1015 L381.7 1014.8 L385.6 1014.5 L389.5 1014.2 L393.4 1014 L397.4 1013.7 L401.3 1013.5 L405.2 1013.2 L409.1 1013 L413.1 1012.7 L417 1012.5 L420.9 1012.3 L424.8 1012 L428.8 1011.8 L432.7 1011.6 L436.6 1011.4 L440.5 1011.2 L444.5 1011 L448.4 1010.8 L452.3 1010.5 L456.3 1010.3 L460.2 1010.1 L464.1 1009.9 L468 1009.7 L472 1009.5 L475.9 1009.3 L479.8 1009.1 L483.7 1008.9 L487.7 1008.7 L491.6 1008.5 L495.5 1008.3 L499.4 1008.2 L503.4 1008 L507.3 1007.9 L511.2 1007.8 L515.1 1007.7 L519.1 1007.7 L523 1007.6 L526.9 1007.5 L530.8 1007.5 L534.8 1007.5 L538.7 1007.4 L542.6 1007.4 L546.5 1007.5 L550.5 1007.5 L554.4 1007.6 L558.3 1007.8 L562.2 1008 L566.2 1008.2 L570.1 1008.4 L574 1008.6 L578 1008.9 L581.9 1009.1 L585.8 1009.2 L589.7 1009.4 L593.7 1009.5 L597.6 1009.6 L601.5 1009.7 L605.4 1009.7 L609.4 1009.8 L613.3 1009.9 L617.2 1009.9 L621.1 1010 L625.1 1010.1 L629 1010.1 L632.9 1010.2 L636.8 1010.2 L640.8 1010.2 L644.7 1010.3 L648.6 1010.3 L652.5 1010.3 L656.5 1010.4 L660.4 1010.4 L664.3 1010.4 L668.2 1010.5 L672.2 1010.5 L676.1 1010.5 L680 1010.6 L683.9 1010.6 L687.9 1010.6 L691.8 1010.6 L695.7 1010.6 L699.7 1010.6 L703.6 1010.6 L707.5 1010.6 L711.4 1010.6 L715.4 1010.5 L719.3 1010.5 L723.2 1010.4 L727.1 1010.3 L731.1 1010.2 L735 1010.1 L738.9 1009.9 L742.8 1009.6 L746.8 1009.3 L750.7 1008.9 L754.6 1008.5 L758.5 1008.1 L762.5 1007.8 L766.4 1007.4 L770.3 1007.1 L774.2 1006.8 L778.2 1006.5 L782.1 1006.2 L786 1006 L789.9 1005.7 L793.9 1005.4 L797.8 1005.1 L801.7 1004.8 L805.7 1004.5 L809.6 1004.2 L813.5 1003.9 L817.4 1003.6 L821.4 1003.4 L825.3 1003.1 L829.2 1002.7 L833.1 1002.4 L837.1 1002.1 L841 1001.8 L844.9 1001.4 L848.8 1001.1 L852.8 1000.7 L856.7 1000.3 L860.6 1000 L864.5 999.6 L868.5 999.2 L872.4 998.7 L876.3 998.3 L880.2 997.9 L884.2 997.4 L888.1 996.9 L892 996.5 L895.9 996 L899.9 995.5 L903.8 995.1 L907.7 994.6 L911.6 994.1 L915.6 993.7 L919.5 993.2 L923.4 992.8 L927.4 992.3 L931.3 991.9 L935.2 991.4 L939.1 991 L943.1 990.5 L947 990.1 L950.9 989.6 L954.8 989.1 L958.8 988.6 L962.7 988.1 L966.6 987.5 L970.5 987 L974.5 986.4 L978.4 985.7 L982.3 985 L986.2 984.2 L990.2 983.3 L994.1 982.4 L998 981.4 L1001.9 980.4 L1005.9 979.3 L1009.8 978.2 L1013.7 977 L1017.6 975.7 L1021.6 974.4 L1025.5 972.9 L1029.4 971.4 L1033.3 969.8 L1037.3 968.2 L1041.2 966.5 L1041.2 998.8 L1037.3 998.9 L1033.3 998.9 L1029.4 999 L1025.5 999 L1021.6 998.9 L1017.6 998.9 L1013.7 998.9 L1009.8 998.8 L1005.9 998.6 L1001.9 998.4 L998 998.2 L994.1 997.9 L990.2 997.7 L986.2 997.4 L982.3 997.2 L978.4 997.1 L974.5 997.1 L970.5 997.1 L966.6 997.1 L962.7 997.2 L958.8 997.3 L954.8 997.4 L950.9 997.6 L947 997.8 L943.1 998.1 L939.1 998.4 L935.2 998.8 L931.3 999.2 L927.4 999.7 L923.4 1000.2 L919.5 1000.7 L915.6 1001.3 L911.6 1001.8 L907.7 1002.4 L903.8 1002.9 L899.9 1003.5 L895.9 1004.1 L892 1004.7 L888.1 1005.2 L884.2 1005.7 L880.2 1006.2 L876.3 1006.7 L872.4 1007.1 L868.5 1007.6 L864.5 1008 L860.6 1008.4 L856.7 1008.7 L852.8 1009.1 L848.8 1009.5 L844.9 1009.8 L841 1010.2 L837.1 1010.5 L833.1 1010.8 L829.2 1011.2 L825.3 1011.5 L821.4 1011.8 L817.4 1012.1 L813.5 1012.3 L809.6 1012.6 L805.7 1012.9 L801.7 1013.2 L797.8 1013.5 L793.9 1013.8 L789.9 1014.1 L786 1014.4 L782.1 1014.6 L778.2 1014.9 L774.2 1015.2 L770.3 1015.5 L766.4 1015.8 L762.5 1016.2 L758.5 1016.5 L754.6 1016.9 L750.7 1017.3 L746.8 1017.7 L742.8 1018 L738.9 1018.3 L735 1018.5 L731.1 1018.6 L727.1 1018.8 L723.2 1018.8 L719.3 1018.9 L715.4 1019 L711.4 1019 L707.5 1019 L703.6 1019 L699.7 1019 L695.7 1019 L691.8 1019 L687.9 1019 L683.9 1019 L680 1019 L676.1 1018.9 L672.2 1018.9 L668.2 1018.9 L664.3 1018.9 L660.4 1018.8 L656.5 1018.8 L652.5 1018.8 L648.6 1018.7 L644.7 1018.7 L640.8 1018.6 L636.8 1018.6 L632.9 1018.6 L629 1018.5 L625.1 1018.5 L621.1 1018.4 L617.2 1018.4 L613.3 1018.3 L609.4 1018.2 L605.4 1018.2 L601.5 1018.1 L597.6 1018 L593.7 1017.9 L589.7 1017.8 L585.8 1017.6 L581.9 1017.5 L578 1017.3 L574 1017.1 L570.1 1016.8 L566.2 1016.6 L562.2 1016.4 L558.3 1016.2 L554.4 1016.1 L550.5 1015.9 L546.5 1015.9 L542.6 1015.8 L538.7 1015.8 L534.8 1015.9 L530.8 1015.9 L526.9 1015.9 L523 1016 L519.1 1016.1 L515.1 1016.1 L511.2 1016.2 L507.3 1016.3 L503.4 1016.5 L499.4 1016.6 L495.5 1016.8 L491.6 1016.9 L487.7 1017.1 L483.7 1017.3 L479.8 1017.5 L475.9 1017.7 L472 1017.9 L468 1018.1 L464.1 1018.3 L460.2 1018.6 L456.3 1018.8 L452.3 1019.1 L448.4 1019.4 L444.5 1019.7 L440.5 1020 L436.6 1020.3 L432.7 1020.6 L428.8 1020.9 L424.8 1021.3 L420.9 1021.6 L417 1022 L413.1 1022.4 L409.1 1022.7 L405.2 1023.1 L401.3 1023.6 L397.4 1024 L393.4 1024.5 L389.5 1025 L385.6 1025.5 L381.7 1026.1 L377.7 1026.7 L373.8 1027.3 L369.9 1027.9 L366 1028.5 L362 1029.2 L358.1 1029.9 Z" fill="#c8c0e2"/>
</g><g style="mix-blend-mode:multiply">
<path d="M358.1 1033.2 L362 1033.2 L366 1033.2 L369.9 1033.2 L373.8 1033.2 L377.7 1033.2 L381.7 1033.2 L385.6 1033.3 L389.5 1033.3 L393.4 1033.3 L397.4 1033.3 L401.3 1033.3 L405.2 1033.3 L409.1 1033.3 L413.1 1033.3 L417 1033.3 L420.9 1033.4 L424.8 1033.4 L428.8 1033.4 L432.7 1033.4 L436.6 1033.4 L440.5 1033.4 L444.5 1033.4 L448.4 1033.4 L452.3 1033.5 L456.3 1033.5 L460.2 1033.5 L464.1 1033.5 L468 1033.5 L472 1033.5 L475.9 1033.5 L479.8 1033.5 L483.7 1033.6 L487.7 1033.6 L491.6 1033.6 L495.5 1033.6 L499.4 1033.6 L503.4 1033.6 L507.3 1033.6 L511.2 1033.6 L515.1 1033.7 L519.1 1033.7 L523 1033.7 L526.9 1033.7 L530.8 1033.7 L534.8 1033.7 L538.7 1033.7 L542.6 1033.7 L546.5 1033.7 L550.5 1033.7 L554.4 1033.8 L558.3 1033.8 L562.2 1033.8 L566.2 1033.8 L570.1 1033.8 L574 1033.8 L578 1033.8 L581.9 1033.8 L585.8 1033.8 L589.7 1033.8 L593.7 1033.8 L597.6 1033.8 L601.5 1033.9 L605.4 1033.9 L609.4 1033.9 L613.3 1033.9 L617.2 1033.9 L621.1 1033.9 L625.1 1033.9 L629 1033.9 L632.9 1033.9 L636.8 1033.9 L640.8 1033.9 L644.7 1033.9 L648.6 1033.9 L652.5 1033.9 L656.5 1033.9 L660.4 1033.9 L664.3 1033.9 L668.2 1033.9 L672.2 1033.9 L676.1 1033.9 L680 1033.9 L683.9 1033.9 L687.9 1033.9 L691.8 1033.8 L695.7 1033.8 L699.7 1033.8 L703.6 1033.8 L707.5 1033.8 L711.4 1033.8 L715.4 1033.8 L719.3 1033.7 L723.2 1033.7 L727.1 1033.7 L731.1 1033.6 L735 1033.6 L738.9 1033.5 L742.8 1033.4 L746.8 1033.3 L750.7 1033.2 L754.6 1033 L758.5 1032.9 L762.5 1032.8 L766.4 1032.6 L770.3 1032.4 L774.2 1032.2 L778.2 1032 L782.1 1031.8 L786 1031.6 L789.9 1031.4 L793.9 1031.1 L797.8 1030.9 L801.7 1030.7 L805.7 1030.5 L809.6 1030.3 L813.5 1030.1 L817.4 1029.8 L821.4 1029.5 L825.3 1029.1 L829.2 1028.6 L833.1 1028.1 L837.1 1027.5 L841 1026.9 L844.9 1026.3 L848.8 1025.5 L852.8 1024.8 L856.7 1023.9 L860.6 1023 L864.5 1022 L868.5 1020.9 L872.4 1019.7 L876.3 1018.5 L880.2 1017.1 L884.2 1015.7 L888.1 1014.1 L892 1012.4 L895.9 1010.6 L899.9 1008.7 L903.8 1006.7 L907.7 1004.5 L911.6 1002.2 L915.6 999.7 L919.5 997.2 L923.4 994.4 L927.4 991.5 L931.3 988.5 L935.2 985.2 L939.1 981.7 L943.1 977.9 L947 973.9 L950.9 969.7 L954.8 965.1 L958.8 960.3 L962.7 955.1 L966.6 949.6 L970.5 943.7 L974.5 937.4 L978.4 930.7 L982.3 923.5 L986.2 915.9 L990.2 907.7 L994.1 899 L998 889.6 L1001.9 879.6 L1005.9 868.9 L1009.8 857.5 L1013.7 845.3 L1017.6 832.2 L1021.6 818.2 L1025.5 803.2 L1029.4 787.1 L1033.3 769.8 L1037.3 751.3 L1041.2 731.5 L1041.2 814.7 L1037.3 826.3 L1033.3 837.3 L1029.4 847.9 L1025.5 858.3 L1021.6 868.5 L1017.6 878.6 L1013.7 888.5 L1009.8 897.9 L1005.9 906.7 L1001.9 914.9 L998 922.7 L994.1 930.1 L990.2 937 L986.2 943.4 L982.3 949.5 L978.4 955.3 L974.5 960.6 L970.5 965.7 L966.6 970.4 L962.7 974.8 L958.8 979 L954.8 982.9 L950.9 986.5 L947 989.9 L943.1 993.1 L939.1 996.1 L935.2 998.9 L931.3 1001.5 L927.4 1004 L923.4 1006.3 L919.5 1008.4 L915.6 1010.4 L911.6 1012.2 L907.7 1013.9 L903.8 1015.5 L899.9 1017 L895.9 1018.3 L892 1019.6 L888.1 1020.9 L884.2 1022 L880.2 1023.1 L876.3 1024.1 L872.4 1025.1 L868.5 1026 L864.5 1026.9 L860.6 1027.7 L856.7 1028.5 L852.8 1029.3 L848.8 1030 L844.9 1030.7 L841 1031.4 L837.1 1032 L833.1 1032.6 L829.2 1033.1 L825.3 1033.6 L821.4 1034 L817.4 1034.3 L813.5 1034.6 L809.6 1034.8 L805.7 1035 L801.7 1035.2 L797.8 1035.4 L793.9 1035.6 L789.9 1035.9 L786 1036.1 L782.1 1036.3 L778.2 1036.5 L774.2 1036.7 L770.3 1036.9 L766.4 1037.1 L762.5 1037.2 L758.5 1037.4 L754.6 1037.5 L750.7 1037.7 L746.8 1037.8 L742.8 1037.9 L738.9 1038 L735 1038.1 L731.1 1038.1 L727.1 1038.2 L723.2 1038.2 L719.3 1038.2 L715.4 1038.3 L711.4 1038.3 L707.5 1038.3 L703.6 1038.3 L699.7 1038.3 L695.7 1038.3 L691.8 1038.3 L687.9 1038.3 L683.9 1038.3 L680 1038.4 L676.1 1038.4 L672.2 1038.4 L668.2 1038.4 L664.3 1038.4 L660.4 1038.4 L656.5 1038.4 L652.5 1038.4 L648.6 1038.4 L644.7 1038.4 L640.8 1038.4 L636.8 1038.4 L632.9 1038.4 L629 1038.4 L625.1 1038.4 L621.1 1038.4 L617.2 1038.4 L613.3 1038.4 L609.4 1038.3 L605.4 1038.3 L601.5 1038.3 L597.6 1038.3 L593.7 1038.3 L589.7 1038.3 L585.8 1038.3 L581.9 1038.3 L578 1038.3 L574 1038.3 L570.1 1038.3 L566.2 1038.3 L562.2 1038.3 L558.3 1038.2 L554.4 1038.2 L550.5 1038.2 L546.5 1038.2 L542.6 1038.2 L538.7 1038.2 L534.8 1038.2 L530.8 1038.2 L526.9 1038.2 L523 1038.2 L519.1 1038.1 L515.1 1038.1 L511.2 1038.1 L507.3 1038.1 L503.4 1038.1 L499.4 1038.1 L495.5 1038.1 L491.6 1038.1 L487.7 1038 L483.7 1038 L479.8 1038 L475.9 1038 L472 1038 L468 1038 L464.1 1038 L460.2 1038 L456.3 1037.9 L452.3 1037.9 L448.4 1037.9 L444.5 1037.9 L440.5 1037.9 L436.6 1037.9 L432.7 1037.9 L428.8 1037.9 L424.8 1037.9 L420.9 1037.8 L417 1037.8 L413.1 1037.8 L409.1 1037.8 L405.2 1037.8 L401.3 1037.8 L397.4 1037.8 L393.4 1037.8 L389.5 1037.8 L385.6 1037.7 L381.7 1037.7 L377.7 1037.7 L373.8 1037.7 L369.9 1037.7 L366 1037.7 L362 1037.7 L358.1 1037.7 Z" fill="#edb9da"/>
</g>
<path d="M358.1 903.4 L362 902.8 L366 902.3 L369.9 901.7 L373.8 901.2 L377.7 900.6 L381.7 900.1 L385.6 899.6 L389.5 899.1 L393.4 898.7 L397.4 898.3 L401.3 897.8 L405.2 897.4 L409.1 897.1 L413.1 896.7 L417 896.4 L420.9 896 L424.8 895.7 L428.8 895.4 L432.7 895.1 L436.6 894.7 L440.5 894.4 L444.5 894.1 L448.4 893.8 L452.3 893.4 L456.3 893.1 L460.2 892.8 L464.1 892.5 L468 892.2 L472 892 L475.9 891.7 L479.8 891.5 L483.7 891.3 L487.7 891.2 L491.6 891 L495.5 890.9 L499.4 890.7 L503.4 890.6 L507.3 890.5 L511.2 890.3 L515.1 890.2 L519.1 890.1 L523 889.9 L526.9 889.8 L530.8 889.7 L534.8 889.6 L538.7 889.5 L542.6 889.5 L546.5 889.4 L550.5 889.4 L554.4 889.4 L558.3 889.4 L562.2 889.4 L566.2 889.4 L570.1 889.4 L574 889.4 L578 889.4 L581.9 889.4 L585.8 889.4 L589.7 889.4 L593.7 889.4 L597.6 889.4 L601.5 889.4 L605.4 889.4 L609.4 889.4 L613.3 889.3 L617.2 889.2 L621.1 889.1 L625.1 889 L629 888.8 L632.9 888.6 L636.8 888.4 L640.8 888.1 L644.7 887.9 L648.6 887.7 L652.5 887.4 L656.5 887.1 L660.4 886.8 L664.3 886.5 L668.2 886.2 L672.2 885.8 L676.1 885.4 L680 884.9 L683.9 884.5 L687.9 884 L691.8 883.4 L695.7 882.8 L699.7 882.1 L703.6 881.4 L707.5 880.6 L711.4 879.8 L715.4 878.9 L719.3 878.1 L723.2 877.2 L727.1 876.3 L731.1 875.4 L735 874.5 L738.9 873.5 L742.8 872.5 L746.8 871.5 L750.7 870.5 L754.6 869.4 L758.5 868.3 L762.5 867.2 L766.4 866 L770.3 864.8 L774.2 863.5 L778.2 862.2 L782.1 860.9 L786 859.6 L789.9 858.2 L793.9 856.9 L797.8 855.5 L801.7 854.1 L805.7 852.6 L809.6 851.2 L813.5 849.7 L817.4 848.3 L821.4 846.8 L825.3 845.4 L829.2 843.9 L833.1 842.5 L837.1 841.1 L841 839.6 L844.9 838.2 L848.8 836.8 L852.8 835.3 L856.7 833.8 L860.6 832.3 L864.5 830.8 L868.5 829.3 L872.4 827.9 L876.3 826.4 L880.2 825 L884.2 823.6 L888.1 822.2 L892 820.9 L895.9 819.6 L899.9 818.3 L903.8 817.1 L907.7 815.8 L911.6 814.6 L915.6 813.4 L919.5 812.2 L923.4 811 L927.4 809.9 L931.3 808.7 L935.2 807.6 L939.1 806.5 L943.1 805.4 L947 804.3 L950.9 803.2 L954.8 802.2 L958.8 801.1 L962.7 800.1 L966.6 799.1 L970.5 798.1 L974.5 797.1 L978.4 796.2 L982.3 795.2 L986.2 794.3 L990.2 793.4 L994.1 792.5 L998 791.6 L1001.9 790.8 L1005.9 789.9 L1009.8 789.1 L1013.7 788.3 L1017.6 787.5 L1021.6 786.7 L1025.5 785.9 L1029.4 785.1 L1033.3 784.4 L1037.3 783.6 L1041.2 782.9" fill="none" stroke="#f47b20" stroke-width="4.9" stroke-linejoin="round"/>
<path d="M358.1 1023.1 L362 1022.7 L366 1022.2 L369.9 1021.7 L373.8 1021.3 L377.7 1020.8 L381.7 1020.4 L385.6 1020 L389.5 1019.6 L393.4 1019.2 L397.4 1018.9 L401.3 1018.5 L405.2 1018.2 L409.1 1017.8 L413.1 1017.5 L417 1017.2 L420.9 1016.9 L424.8 1016.7 L428.8 1016.4 L432.7 1016.1 L436.6 1015.8 L440.5 1015.6 L444.5 1015.3 L448.4 1015.1 L452.3 1014.8 L456.3 1014.6 L460.2 1014.3 L464.1 1014.1 L468 1013.9 L472 1013.7 L475.9 1013.5 L479.8 1013.3 L483.7 1013.1 L487.7 1012.9 L491.6 1012.7 L495.5 1012.5 L499.4 1012.4 L503.4 1012.2 L507.3 1012.1 L511.2 1012 L515.1 1011.9 L519.1 1011.9 L523 1011.8 L526.9 1011.7 L530.8 1011.7 L534.8 1011.7 L538.7 1011.6 L542.6 1011.6 L546.5 1011.7 L550.5 1011.7 L554.4 1011.8 L558.3 1012 L562.2 1012.2 L566.2 1012.4 L570.1 1012.6 L574 1012.8 L578 1013.1 L581.9 1013.3 L585.8 1013.4 L589.7 1013.6 L593.7 1013.7 L597.6 1013.8 L601.5 1013.9 L605.4 1013.9 L609.4 1014 L613.3 1014.1 L617.2 1014.1 L621.1 1014.2 L625.1 1014.3 L629 1014.3 L632.9 1014.4 L636.8 1014.4 L640.8 1014.4 L644.7 1014.5 L648.6 1014.5 L652.5 1014.5 L656.5 1014.6 L660.4 1014.6 L664.3 1014.6 L668.2 1014.7 L672.2 1014.7 L676.1 1014.7 L680 1014.8 L683.9 1014.8 L687.9 1014.8 L691.8 1014.8 L695.7 1014.8 L699.7 1014.8 L703.6 1014.8 L707.5 1014.8 L711.4 1014.8 L715.4 1014.8 L719.3 1014.7 L723.2 1014.6 L727.1 1014.6 L731.1 1014.4 L735 1014.3 L738.9 1014.1 L742.8 1013.8 L746.8 1013.5 L750.7 1013.1 L754.6 1012.7 L758.5 1012.3 L762.5 1012 L766.4 1011.6 L770.3 1011.3 L774.2 1011 L778.2 1010.7 L782.1 1010.4 L786 1010.2 L789.9 1009.9 L793.9 1009.6 L797.8 1009.3 L801.7 1009 L805.7 1008.7 L809.6 1008.4 L813.5 1008.1 L817.4 1007.9 L821.4 1007.6 L825.3 1007.3 L829.2 1007 L833.1 1006.6 L837.1 1006.3 L841 1006 L844.9 1005.6 L848.8 1005.3 L852.8 1004.9 L856.7 1004.5 L860.6 1004.2 L864.5 1003.8 L868.5 1003.4 L872.4 1002.9 L876.3 1002.5 L880.2 1002 L884.2 1001.6 L888.1 1001.1 L892 1000.6 L895.9 1000 L899.9 999.5 L903.8 999 L907.7 998.5 L911.6 998 L915.6 997.5 L919.5 997 L923.4 996.5 L927.4 996 L931.3 995.5 L935.2 995.1 L939.1 994.7 L943.1 994.3 L947 993.9 L950.9 993.5 L954.8 993.1 L958.8 992.7 L962.7 992.4 L966.6 992 L970.5 991.6 L974.5 991.3 L978.4 990.9 L982.3 990.6 L986.2 990.2 L990.2 989.9 L994.1 989.5 L998 989.2 L1001.9 988.9 L1005.9 988.5 L1009.8 988.2 L1013.7 987.8 L1017.6 987.4 L1021.6 987.1 L1025.5 986.7 L1029.4 986.4 L1033.3 986 L1037.3 985.6 L1041.2 985.2" fill="none" stroke="#6c54a8" stroke-width="4.9" stroke-linejoin="round"/>
<g fill="#f47b20"><circle cx="358.1" cy="1007.5" r="5.2"/><circle cx="366" cy="848.5" r="5.2"/><circle cx="373.8" cy="897.9" r="5.2"/><circle cx="381.7" cy="928.8" r="5.2"/><circle cx="389.5" cy="872.9" r="5.2"/><circle cx="397.4" cy="877.6" r="5.2"/><circle cx="405.2" cy="867.8" r="5.2"/><circle cx="413.1" cy="883.8" r="5.2"/><circle cx="420.9" cy="943.3" r="5.2"/><circle cx="428.8" cy="851.9" r="5.2"/><circle cx="436.6" cy="880" r="5.2"/><circle cx="444.5" cy="893.9" r="5.2"/><circle cx="452.3" cy="907.6" r="5.2"/><circle cx="460.2" cy="882.3" r="5.2"/><circle cx="468" cy="874.8" r="5.2"/><circle cx="475.9" cy="870.1" r="5.2"/><circle cx="483.7" cy="902.6" r="5.2"/><circle cx="491.6" cy="847.2" r="5.2"/><circle cx="499.4" cy="911.4" r="5.2"/><circle cx="507.3" cy="870.1" r="5.2"/><circle cx="515.1" cy="928.8" r="5.2"/><circle cx="523" cy="849" r="5.2"/><circle cx="530.8" cy="896.4" r="5.2"/><circle cx="538.7" cy="876.1" r="5.2"/><circle cx="546.5" cy="880.4" r="5.2"/><circle cx="554.4" cy="893" r="5.2"/><circle cx="562.2" cy="887.5" r="5.2"/><circle cx="570.1" cy="923" r="5.2"/><circle cx="578" cy="914.8" r="5.2"/><circle cx="585.8" cy="902.4" r="5.2"/><circle cx="593.7" cy="860.1" r="5.2"/><circle cx="601.5" cy="906.7" r="5.2"/><circle cx="609.4" cy="964" r="5.2"/><circle cx="617.2" cy="908.9" r="5.2"/><circle cx="625.1" cy="932.4" r="5.2"/><circle cx="632.9" cy="851.9" r="5.2"/><circle cx="640.8" cy="856.5" r="5.2"/><circle cx="648.6" cy="879.5" r="5.2"/><circle cx="656.5" cy="875.7" r="5.2"/><circle cx="664.3" cy="893" r="5.2"/><circle cx="672.2" cy="911.4" r="5.2"/><circle cx="680" cy="893.9" r="5.2"/><circle cx="687.9" cy="893.5" r="5.2"/><circle cx="695.7" cy="908.2" r="5.2"/><circle cx="711.4" cy="868.8" r="5.2"/><circle cx="719.3" cy="816.4" r="5.2"/><circle cx="727.1" cy="881.3" r="5.2"/><circle cx="735" cy="831.5" r="5.2"/><circle cx="742.8" cy="830" r="5.2"/><circle cx="750.7" cy="801.4" r="5.2"/><circle cx="758.5" cy="802.7" r="5.2"/><circle cx="766.4" cy="882.5" r="5.2"/><circle cx="774.2" cy="790.1" r="5.2"/><circle cx="782.1" cy="783" r="5.2"/><circle cx="789.9" cy="854.4" r="5.2"/><circle cx="797.8" cy="829.6" r="5.2"/><circle cx="805.7" cy="785.4" r="5.2"/><circle cx="813.5" cy="841.2" r="5.2"/><circle cx="821.4" cy="820.6" r="5.2"/><circle cx="829.2" cy="817.4" r="5.2"/><circle cx="837.1" cy="825.4" r="5.2"/><circle cx="844.9" cy="820.2" r="5.2"/><circle cx="852.8" cy="860" r="5.2"/><circle cx="860.6" cy="839.3" r="5.2"/><circle cx="868.5" cy="842.7" r="5.2"/><circle cx="876.3" cy="839.3" r="5.2"/><circle cx="884.2" cy="892.5" r="5.2"/><circle cx="892" cy="839.9" r="5.2"/><circle cx="899.9" cy="859.6" r="5.2"/><circle cx="923.4" cy="880.3" r="5.2"/><circle cx="947" cy="771.7" r="5.2"/><circle cx="970.5" cy="827.7" r="5.2"/><circle cx="994.1" cy="768.5" r="5.2"/><circle cx="1009.8" cy="762.9" r="5.2"/><circle cx="1017.6" cy="788.6" r="5.2"/><circle cx="1041.2" cy="727.2" r="5.2"/></g>
<g fill="#d60f8c"><circle cx="358.1" cy="1036.3" r="5.2"/><circle cx="366" cy="1034.4" r="5.2"/><circle cx="373.8" cy="1041.9" r="5.2"/><circle cx="381.7" cy="1037.2" r="5.2"/><circle cx="389.5" cy="1027.8" r="5.2"/><circle cx="397.4" cy="1039.1" r="5.2"/><circle cx="405.2" cy="1034.4" r="5.2"/><circle cx="413.1" cy="1037.2" r="5.2"/><circle cx="420.9" cy="1037.2" r="5.2"/><circle cx="428.8" cy="1040" r="5.2"/><circle cx="436.6" cy="1028.2" r="5.2"/><circle cx="444.5" cy="1037.2" r="5.2"/><circle cx="452.3" cy="1037.2" r="5.2"/><circle cx="460.2" cy="1041.9" r="5.2"/><circle cx="468" cy="1038.1" r="5.2"/><circle cx="475.9" cy="1033.5" r="5.2"/><circle cx="483.7" cy="1032.5" r="5.2"/><circle cx="491.6" cy="1038.1" r="5.2"/><circle cx="499.4" cy="1033.5" r="5.2"/><circle cx="507.3" cy="1037.2" r="5.2"/><circle cx="515.1" cy="1039.1" r="5.2"/><circle cx="523" cy="1038.1" r="5.2"/><circle cx="530.8" cy="1033.5" r="5.2"/><circle cx="538.7" cy="1032.5" r="5.2"/><circle cx="546.5" cy="1037.2" r="5.2"/><circle cx="554.4" cy="1034" r="5.2"/><circle cx="562.2" cy="1035.3" r="5.2"/><circle cx="570.1" cy="1040" r="5.2"/><circle cx="578" cy="1039.1" r="5.2"/><circle cx="585.8" cy="1028.2" r="5.2"/><circle cx="593.7" cy="1032.5" r="5.2"/><circle cx="601.5" cy="1041.9" r="5.2"/><circle cx="609.4" cy="1027.8" r="5.2"/><circle cx="617.2" cy="1033.5" r="5.2"/><circle cx="625.1" cy="1037.2" r="5.2"/><circle cx="632.9" cy="1032.5" r="5.2"/><circle cx="640.8" cy="1028.8" r="5.2"/><circle cx="648.6" cy="1035.3" r="5.2"/><circle cx="656.5" cy="1037.2" r="5.2"/><circle cx="664.3" cy="1038.1" r="5.2"/><circle cx="672.2" cy="1038.1" r="5.2"/><circle cx="680" cy="1035.3" r="5.2"/><circle cx="687.9" cy="1034.4" r="5.2"/><circle cx="695.7" cy="1037.2" r="5.2"/><circle cx="711.4" cy="1034" r="5.2"/><circle cx="719.3" cy="1037.2" r="5.2"/><circle cx="727.1" cy="1039.1" r="5.2"/><circle cx="735" cy="1033.1" r="5.2"/><circle cx="742.8" cy="1040" r="5.2"/><circle cx="750.7" cy="1041" r="5.2"/><circle cx="758.5" cy="1030.6" r="5.2"/><circle cx="766.4" cy="1026.5" r="5.2"/><circle cx="774.2" cy="1039.1" r="5.2"/><circle cx="782.1" cy="1039.1" r="5.2"/><circle cx="789.9" cy="1041" r="5.2"/><circle cx="797.8" cy="1041.9" r="5.2"/><circle cx="805.7" cy="1035.3" r="5.2"/><circle cx="813.5" cy="1030.6" r="5.2"/><circle cx="821.4" cy="1035.3" r="5.2"/><circle cx="829.2" cy="1021.2" r="5.2"/><circle cx="837.1" cy="1024.4" r="5.2"/><circle cx="844.9" cy="1038.1" r="5.2"/><circle cx="852.8" cy="1014.7" r="5.2"/><circle cx="860.6" cy="1023.1" r="5.2"/><circle cx="868.5" cy="1025.6" r="5.2"/><circle cx="876.3" cy="994" r="5.2"/><circle cx="884.2" cy="1001.5" r="5.2"/><circle cx="892" cy="1013.7" r="5.2"/><circle cx="899.9" cy="981.8" r="5.2"/><circle cx="923.4" cy="967.3" r="5.2"/><circle cx="947" cy="913.5" r="5.2"/><circle cx="970.5" cy="851.2" r="5.2"/><circle cx="994.1" cy="934.3" r="5.2"/><circle cx="1009.8" cy="843.7" r="5.2"/><circle cx="1017.6" cy="855.9" r="5.2"/><circle cx="1041.2" cy="798" r="5.2"/></g>
<g fill="#6c54a8"><circle cx="358.1" cy="1032.1" r="5.2"/><circle cx="366" cy="1001.2" r="5.2"/><circle cx="373.8" cy="1019.4" r="5.2"/><circle cx="381.7" cy="1027.8" r="5.2"/><circle cx="389.5" cy="1029.7" r="5.2"/><circle cx="397.4" cy="1016.5" r="5.2"/><circle cx="405.2" cy="1009.4" r="5.2"/><circle cx="413.1" cy="1021.8" r="5.2"/><circle cx="420.9" cy="1025" r="5.2"/><circle cx="428.8" cy="1011.3" r="5.2"/><circle cx="436.6" cy="1025.6" r="5.2"/><circle cx="444.5" cy="1016.2" r="5.2"/><circle cx="452.3" cy="1021.8" r="5.2"/><circle cx="460.2" cy="1010.9" r="5.2"/><circle cx="468" cy="998.3" r="5.2"/><circle cx="475.9" cy="1017.1" r="5.2"/><circle cx="483.7" cy="1010.5" r="5.2"/><circle cx="491.6" cy="984.6" r="5.2"/><circle cx="499.4" cy="1011.3" r="5.2"/><circle cx="507.3" cy="1025.9" r="5.2"/><circle cx="515.1" cy="1009.6" r="5.2"/><circle cx="523" cy="1021.8" r="5.2"/><circle cx="530.8" cy="1024.4" r="5.2"/><circle cx="538.7" cy="983.1" r="5.2"/><circle cx="546.5" cy="1012.8" r="5.2"/><circle cx="554.4" cy="1010.5" r="5.2"/><circle cx="562.2" cy="1017.5" r="5.2"/><circle cx="570.1" cy="1018.8" r="5.2"/><circle cx="578" cy="1024.1" r="5.2"/><circle cx="585.8" cy="1019.4" r="5.2"/><circle cx="593.7" cy="1011.9" r="5.2"/><circle cx="601.5" cy="1012.4" r="5.2"/><circle cx="609.4" cy="1016.5" r="5.2"/><circle cx="617.2" cy="1017.5" r="5.2"/><circle cx="625.1" cy="1008.7" r="5.2"/><circle cx="632.9" cy="1001" r="5.2"/><circle cx="640.8" cy="1024.4" r="5.2"/><circle cx="648.6" cy="1005.8" r="5.2"/><circle cx="656.5" cy="1031.6" r="5.2"/><circle cx="664.3" cy="1033.5" r="5.2"/><circle cx="672.2" cy="1013.4" r="5.2"/><circle cx="680" cy="1008.5" r="5.2"/><circle cx="687.9" cy="1017.5" r="5.2"/><circle cx="695.7" cy="1028.2" r="5.2"/><circle cx="711.4" cy="994" r="5.2"/><circle cx="719.3" cy="1016.5" r="5.2"/><circle cx="727.1" cy="1024.1" r="5.2"/><circle cx="735" cy="1010" r="5.2"/><circle cx="742.8" cy="973.7" r="5.2"/><circle cx="750.7" cy="1012.8" r="5.2"/><circle cx="758.5" cy="1018.4" r="5.2"/><circle cx="766.4" cy="1011.9" r="5.2"/><circle cx="774.2" cy="1005.7" r="5.2"/><circle cx="782.1" cy="1008.1" r="5.2"/><circle cx="789.9" cy="1005.7" r="5.2"/><circle cx="797.8" cy="991.6" r="5.2"/><circle cx="805.7" cy="1013.7" r="5.2"/><circle cx="813.5" cy="1010.9" r="5.2"/><circle cx="821.4" cy="992.5" r="5.2"/><circle cx="829.2" cy="1018.4" r="5.2"/><circle cx="837.1" cy="994" r="5.2"/><circle cx="844.9" cy="1014.7" r="5.2"/><circle cx="852.8" cy="1018.4" r="5.2"/><circle cx="860.6" cy="1005.3" r="5.2"/><circle cx="868.5" cy="995.9" r="5.2"/><circle cx="876.3" cy="1011.9" r="5.2"/><circle cx="884.2" cy="1003.4" r="5.2"/><circle cx="892" cy="970.5" r="5.2"/><circle cx="899.9" cy="994.4" r="5.2"/><circle cx="923.4" cy="1006.2" r="5.2"/><circle cx="947" cy="1003.4" r="5.2"/><circle cx="970.5" cy="995.9" r="5.2"/><circle cx="994.1" cy="983.7" r="5.2"/><circle cx="1009.8" cy="979.9" r="5.2"/><circle cx="1017.6" cy="974.3" r="5.2"/><circle cx="1041.2" cy="996.8" r="5.2"/></g>
<path d="M358.1 1035.4 L362 1035.4 L366 1035.4 L369.9 1035.4 L373.8 1035.5 L377.7 1035.5 L381.7 1035.5 L385.6 1035.5 L389.5 1035.5 L393.4 1035.5 L397.4 1035.5 L401.3 1035.5 L405.2 1035.6 L409.1 1035.6 L413.1 1035.6 L417 1035.6 L420.9 1035.6 L424.8 1035.6 L428.8 1035.6 L432.7 1035.6 L436.6 1035.6 L440.5 1035.7 L444.5 1035.7 L448.4 1035.7 L452.3 1035.7 L456.3 1035.7 L460.2 1035.7 L464.1 1035.7 L468 1035.7 L472 1035.8 L475.9 1035.8 L479.8 1035.8 L483.7 1035.8 L487.7 1035.8 L491.6 1035.8 L495.5 1035.8 L499.4 1035.8 L503.4 1035.9 L507.3 1035.9 L511.2 1035.9 L515.1 1035.9 L519.1 1035.9 L523 1035.9 L526.9 1035.9 L530.8 1035.9 L534.8 1035.9 L538.7 1036 L542.6 1036 L546.5 1036 L550.5 1036 L554.4 1036 L558.3 1036 L562.2 1036 L566.2 1036 L570.1 1036 L574 1036 L578 1036 L581.9 1036.1 L585.8 1036.1 L589.7 1036.1 L593.7 1036.1 L597.6 1036.1 L601.5 1036.1 L605.4 1036.1 L609.4 1036.1 L613.3 1036.1 L617.2 1036.1 L621.1 1036.1 L625.1 1036.1 L629 1036.1 L632.9 1036.1 L636.8 1036.1 L640.8 1036.1 L644.7 1036.1 L648.6 1036.1 L652.5 1036.1 L656.5 1036.1 L660.4 1036.1 L664.3 1036.1 L668.2 1036.1 L672.2 1036.1 L676.1 1036.1 L680 1036.1 L683.9 1036.1 L687.9 1036.1 L691.8 1036.1 L695.7 1036.1 L699.7 1036.1 L703.6 1036.1 L707.5 1036 L711.4 1036 L715.4 1036 L719.3 1036 L723.2 1036 L727.1 1035.9 L731.1 1035.9 L735 1035.8 L738.9 1035.7 L742.8 1035.6 L746.8 1035.5 L750.7 1035.4 L754.6 1035.3 L758.5 1035.2 L762.5 1035 L766.4 1034.8 L770.3 1034.7 L774.2 1034.5 L778.2 1034.3 L782.1 1034.1 L786 1033.8 L789.9 1033.6 L793.9 1033.4 L797.8 1033.2 L801.7 1033 L805.7 1032.8 L809.6 1032.6 L813.5 1032.3 L817.4 1032.1 L821.4 1031.7 L825.3 1031.4 L829.2 1030.9 L833.1 1030.4 L837.1 1029.8 L841 1029.2 L844.9 1028.5 L848.8 1027.8 L852.8 1027 L856.7 1026.2 L860.6 1025.4 L864.5 1024.5 L868.5 1023.5 L872.4 1022.4 L876.3 1021.3 L880.2 1020.1 L884.2 1018.8 L888.1 1017.5 L892 1016 L895.9 1014.5 L899.9 1012.9 L903.8 1011.1 L907.7 1009.2 L911.6 1007.2 L915.6 1005.1 L919.5 1002.8 L923.4 1000.4 L927.4 997.8 L931.3 995 L935.2 992 L939.1 988.9 L943.1 985.5 L947 981.9 L950.9 978.1 L954.8 974 L958.8 969.6 L962.7 964.9 L966.6 960 L970.5 954.7 L974.5 949 L978.4 942.9 L982.3 936.5 L986.2 929.6 L990.2 922.3 L994.1 914.4 L998 906 L1001.9 897.1 L1005.9 887.6 L1009.8 877.4 L1013.7 866.6 L1017.6 855 L1021.6 842.6 L1025.5 829.4 L1029.4 815.3 L1033.3 800.3 L1037.3 784.3 L1041.2 767.2" fill="none" stroke="#d60f8c" stroke-width="4.9" stroke-linejoin="round"/>
<text x="99" y="574.6" font-size="29.5" font-weight="bold" textLength="339.5" lengthAdjust="spacingAndGlyphs" fill="#3d3d3f">Main device type used*</text>
<rect x="113.9" y="609" width="59.2" height="24.6" fill="#edb9da"/>
<line x1="113.9" y1="621.3" x2="173.1" y2="621.3" stroke="#d60f8c" stroke-width="4.6"/>
<text x="187.7" y="631.5" font-size="30" textLength="147.1" lengthAdjust="spacingAndGlyphs" fill="#3d3d3f">Disposable</text>
<rect x="113.9" y="665.3" width="59.2" height="24.6" fill="#c8c0e2"/>
<line x1="113.9" y1="677.6" x2="173.1" y2="677.6" stroke="#6c54a8" stroke-width="4.6"/>
<text x="187.7" y="687.8" font-size="30" textLength="52.9" lengthAdjust="spacingAndGlyphs" fill="#3d3d3f">Pod</text>
<rect x="113.9" y="721.3" width="59.2" height="24.6" fill="#fdd3b3"/>
<line x1="113.9" y1="733.6" x2="173.1" y2="733.6" stroke="#f47b20" stroke-width="4.6"/>
<text x="187.7" y="743.8" font-size="30" textLength="123.4" lengthAdjust="spacingAndGlyphs" fill="#3d3d3f">Refillable</text>
<text transform="translate(28.2,1069) rotate(-90)" font-size="29.8" font-weight="bold" textLength="505" lengthAdjust="spacingAndGlyphs" fill="#3d3d3f">Prevalence of long term vaping (%)</text>
<text transform="translate(117.5,1061.3) rotate(-45)" text-anchor="end" font-size="30" textLength="94" lengthAdjust="spacingAndGlyphs" fill="#3d3d3f">Oct 13</text>
<text transform="translate(211.7,1061.3) rotate(-45)" text-anchor="end" font-size="30" textLength="94" lengthAdjust="spacingAndGlyphs" fill="#3d3d3f">Oct 14</text>
<text transform="translate(305.9,1061.3) rotate(-45)" text-anchor="end" font-size="30" textLength="94" lengthAdjust="spacingAndGlyphs" fill="#3d3d3f">Oct 15</text>
<text transform="translate(400.2,1061.3) rotate(-45)" text-anchor="end" font-size="30" textLength="94" lengthAdjust="spacingAndGlyphs" fill="#3d3d3f">Oct 16</text>
<text transform="translate(494.4,1061.3) rotate(-45)" text-anchor="end" font-size="30" textLength="94" lengthAdjust="spacingAndGlyphs" fill="#3d3d3f">Oct 17</text>
<text transform="translate(588.6,1061.3) rotate(-45)" text-anchor="end" font-size="30" textLength="94" lengthAdjust="spacingAndGlyphs" fill="#3d3d3f">Oct 18</text>
<text transform="translate(682.8,1061.3) rotate(-45)" text-anchor="end" font-size="30" textLength="94" lengthAdjust="spacingAndGlyphs" fill="#3d3d3f">Oct 19</text>
<text transform="translate(777,1061.3) rotate(-45)" text-anchor="end" font-size="30" textLength="94" lengthAdjust="spacingAndGlyphs" fill="#3d3d3f">Oct 20</text>
<text transform="translate(871.3,1061.3) rotate(-45)" text-anchor="end" font-size="30" textLength="94" lengthAdjust="spacingAndGlyphs" fill="#3d3d3f">Oct 21</text>
<text transform="translate(965.5,1061.3) rotate(-45)" text-anchor="end" font-size="30" textLength="94" lengthAdjust="spacingAndGlyphs" fill="#3d3d3f">Oct 22</text>
<text transform="translate(1059.7,1061.3) rotate(-45)" text-anchor="end" font-size="30" textLength="94" lengthAdjust="spacingAndGlyphs" fill="#3d3d3f">Oct 23</text>
<text x="522.3" y="1179.5" font-size="29.5" font-weight="bold" textLength="96.5" lengthAdjust="spacingAndGlyphs" fill="#3d3d3f">Month</text>
</svg></body></html>
